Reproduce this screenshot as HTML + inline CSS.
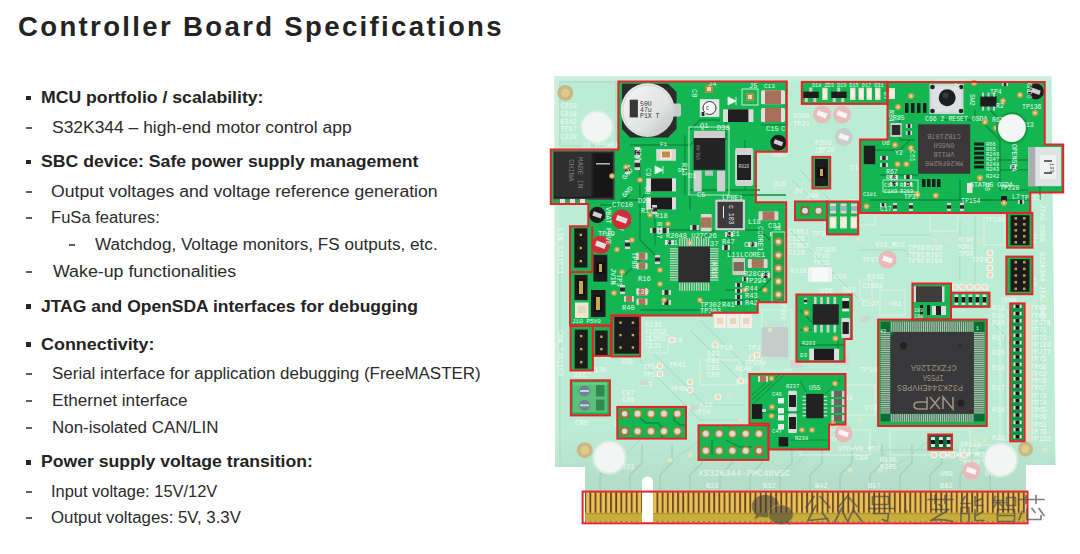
<!DOCTYPE html>
<html><head><meta charset="utf-8">
<style>
html,body{margin:0;padding:0;background:#fff;}
body{width:1080px;height:554px;position:relative;overflow:hidden;font-family:"Liberation Sans",sans-serif;color:#262626;}
.t{position:absolute;white-space:nowrap;line-height:1;transform-origin:0 0;}
.title{font-weight:bold;font-size:27px;color:#232323;letter-spacing:2.3px;}
.b{font-weight:bold;font-size:17px;color:#232323;}
.n{font-size:16px;color:#2b2b2b;}
.sq{position:absolute;width:4.7px;height:4.7px;background:#262626;}
.dash{position:absolute;height:2px;width:6px;background:#5e5e5e;}
svg{position:absolute;left:0;top:0;}
</style></head><body>
<div class="t title" id="l0" style="left:18.38px;top:14.44px;transform:scaleX(1.0201)">Controller Board Specifications</div>
<div class="t b" id="l1" style="left:41.15px;top:89.01px;transform:scaleX(1.0377)">MCU portfolio / scalability:</div>
<div class="sq" style="left:26.1px;top:95.7px"></div>
<div class="t n" id="l2" style="left:51.68px;top:119.66px;transform:scaleX(1.0901)">S32K344 – high-end motor control app</div>
<div class="dash" style="left:26.1px;top:127px"></div>
<div class="t b" id="l3" style="left:41.15px;top:152.91px;transform:scaleX(1.0378)">SBC device: Safe power supply management</div>
<div class="sq" style="left:26.1px;top:159.6px"></div>
<div class="t n" id="l4" style="left:50.72px;top:183.86px;transform:scaleX(1.1003)">Output voltages and voltage reference generation</div>
<div class="dash" style="left:26.1px;top:191px"></div>
<div class="t n" id="l5" style="left:51.35px;top:210.16px;transform:scaleX(1.0363)">FuSa features:</div>
<div class="dash" style="left:26.1px;top:217px"></div>
<div class="t n" id="l6" style="left:95.41px;top:236.76px;transform:scaleX(1.0693)">Watchdog, Voltage monitors, FS outputs, etc.</div>
<div class="dash" style="left:69.2px;top:244px"></div>
<div class="t n" id="l7" style="left:52.95px;top:263.76px;transform:scaleX(1.1110)">Wake-up functionalities</div>
<div class="dash" style="left:26.1px;top:271px"></div>
<div class="t b" id="l8" style="left:41.19px;top:297.61px;transform:scaleX(1.0285)">JTAG and OpenSDA interfaces for debugging</div>
<div class="sq" style="left:26.1px;top:304.3px"></div>
<div class="t b" id="l9" style="left:41.13px;top:335.51px;transform:scaleX(1.0543)">Connectivity:</div>
<div class="sq" style="left:26.1px;top:342.2px"></div>
<div class="t n" id="l10" style="left:51.91px;top:366.26px;transform:scaleX(1.0595)">Serial interface for application debugging (FreeMASTER)</div>
<div class="dash" style="left:26.1px;top:373px"></div>
<div class="t n" id="l11" style="left:51.70px;top:392.66px;transform:scaleX(1.0743)">Ethernet interface</div>
<div class="dash" style="left:26.1px;top:400px"></div>
<div class="t n" id="l12" style="left:51.72px;top:419.56px;transform:scaleX(1.0574)">Non-isolated CAN/LIN</div>
<div class="dash" style="left:26.1px;top:427px"></div>
<div class="t b" id="l13" style="left:41.16px;top:453.21px;transform:scaleX(1.0350)">Power supply voltage transition:</div>
<div class="sq" style="left:26.1px;top:459.9px"></div>
<div class="t n" id="l14" style="left:50.54px;top:484.16px;transform:scaleX(1.0271)">Input voltage: 15V/12V</div>
<div class="dash" style="left:26.1px;top:491px"></div>
<div class="t n" id="l15" style="left:50.76px;top:510.26px;transform:scaleX(1.0500)">Output voltages: 5V, 3.3V</div>
<div class="dash" style="left:26.1px;top:517px"></div>
<svg width="1080" height="554" viewBox="0 0 1080 554" font-family="Liberation Mono, monospace">
<defs>
<pattern id="fing" x="585.1" y="0" width="5.16" height="10" patternUnits="userSpaceOnUse">
<rect width="5.16" height="10" fill="#5e4622"/><rect x="1.0" width="3.4" height="10" fill="#ecbf56"/>
</pattern>
<linearGradient id="capg" x1="0" y1="0" x2="1" y2="1"><stop offset="0" stop-color="#f4f5f5"/><stop offset="0.6" stop-color="#e2e4e4"/><stop offset="1" stop-color="#b8bcbc"/></linearGradient>
</defs>
<path d="M554.5 76.5 H1051.5 L1055.5 465 H1026 V522 H585 V467 H555 Z" fill="#bdecd4" stroke="none" stroke-width="1" />
<path d="M554.5 76.5 H1051.5 V80.6 H559 V467 H555 Z" fill="#cdeedd" stroke="none" stroke-width="1" />
<linearGradient id="lowg" x1="0" y1="0" x2="0" y2="1"><stop offset="0" stop-color="#b0d8c4" stop-opacity="0"/><stop offset="1" stop-color="#b0d8c4" stop-opacity="0.8"/></linearGradient>
<path d="M555 430 H1054.5 L1055.5 465 H1026 V491 H585 V467 H555 Z" fill="url(#lowg)"/>
<path d="M600 491 V475 L612 463 V445" fill="none" stroke="#a3cdb8" stroke-width="1.2"/>
<path d="M630 491 V475 L642 463 V445" fill="none" stroke="#a3cdb8" stroke-width="1.2"/>
<path d="M660 491 V475 L672 463 V445" fill="none" stroke="#a3cdb8" stroke-width="1.2"/>
<path d="M690 491 V475 L702 463 V445" fill="none" stroke="#a3cdb8" stroke-width="1.2"/>
<path d="M720 491 V475 L732 463 V445" fill="none" stroke="#a3cdb8" stroke-width="1.2"/>
<path d="M750 491 V475 L762 463 V445" fill="none" stroke="#a3cdb8" stroke-width="1.2"/>
<path d="M780 491 V475 L792 463 V445" fill="none" stroke="#a3cdb8" stroke-width="1.2"/>
<path d="M810 491 V475 L822 463 V445" fill="none" stroke="#a3cdb8" stroke-width="1.2"/>
<path d="M840 491 V475 L852 463 V445" fill="none" stroke="#a3cdb8" stroke-width="1.2"/>
<path d="M870 491 V475 L882 463 V445" fill="none" stroke="#a3cdb8" stroke-width="1.2"/>
<path d="M900 491 V475 L912 463 V445" fill="none" stroke="#a3cdb8" stroke-width="1.2"/>
<path d="M930 491 V475 L942 463 V445" fill="none" stroke="#a3cdb8" stroke-width="1.2"/>
<path d="M960 491 V475 L972 463 V445" fill="none" stroke="#a3cdb8" stroke-width="1.2"/>
<path d="M990 491 V475 L1002 463 V445" fill="none" stroke="#a3cdb8" stroke-width="1.2"/>
<path d="M560 82 H616 V146 H560 Z" fill="none" stroke="#a9d9bd" stroke-width="1"/>
<path d="M790 230 L860 300" fill="none" stroke="#a9d9bd" stroke-width="1"/>
<path d="M800 170 L845 215" fill="none" stroke="#a9d9bd" stroke-width="1"/>
<path d="M792 180 L840 225" fill="none" stroke="#a9d9bd" stroke-width="1"/>
<path d="M640 360 L700 420 H740" fill="none" stroke="#a9d9bd" stroke-width="1"/>
<path d="M650 350 L705 405 H745" fill="none" stroke="#a9d9bd" stroke-width="1"/>
<path d="M690 330 L740 380" fill="none" stroke="#a9d9bd" stroke-width="1"/>
<path d="M700 320 L745 365" fill="none" stroke="#a9d9bd" stroke-width="1"/>
<path d="M870 440 L900 470" fill="none" stroke="#a9d9bd" stroke-width="1"/>
<path d="M840 450 H1000" fill="none" stroke="#a9d9bd" stroke-width="1"/>
<path d="M660 470 L700 440" fill="none" stroke="#a9d9bd" stroke-width="1"/>
<path d="M990 320 L1005 335 V440" fill="none" stroke="#a9d9bd" stroke-width="1"/>
<path d="M860 250 H905 L920 265" fill="none" stroke="#a9d9bd" stroke-width="1"/>
<path d="M880 235 H930" fill="none" stroke="#a9d9bd" stroke-width="1"/>
<path d="M960 220 V280" fill="none" stroke="#a9d9bd" stroke-width="1"/>
<path d="M975 215 V285" fill="none" stroke="#a9d9bd" stroke-width="1"/>
<path d="M890 470 L930 440" fill="none" stroke="#a9d9bd" stroke-width="1"/>
<path d="M1040 300 V440" fill="none" stroke="#a9d9bd" stroke-width="1"/>
<path d="M600 480 L640 440" fill="none" stroke="#a9d9bd" stroke-width="1"/>
<path d="M790 470 L820 440" fill="none" stroke="#a9d9bd" stroke-width="1"/>
<path d="M560 250 V460" fill="none" stroke="#a9d9bd" stroke-width="1"/>
<rect x="930" y="195" width="28" height="36" fill="none" stroke="#e4f5ea" stroke-width="0.8"/>
<rect x="955" y="330" width="30" height="12" fill="none" stroke="#e4f5ea" stroke-width="0.8"/>
<rect x="835" y="385" width="40" height="30" fill="none" stroke="#e4f5ea" stroke-width="0.8"/>
<rect x="890" y="430" width="80" height="25" fill="none" stroke="#e4f5ea" stroke-width="0.8"/>
<rect x="940" y="80" width="25" height="4" fill="none" stroke="#e4f5ea" stroke-width="0.8"/>
<rect x="1000" y="310" width="8" height="130" fill="none" stroke="#e4f5ea" stroke-width="0.8"/>
<rect x="880" y="290" width="25" height="25" fill="none" stroke="#e4f5ea" stroke-width="0.8"/>
<rect x="845" y="200" width="30" height="25" fill="none" stroke="#e4f5ea" stroke-width="0.8"/>
<rect x="860" y="280" width="12" height="20" fill="none" stroke="#e4f5ea" stroke-width="0.8"/>
<rect x="762" y="310" width="30" height="60" fill="none" stroke="#e4f5ea" stroke-width="0.8"/>
<rect x="700" y="360" width="40" height="25" fill="none" stroke="#e4f5ea" stroke-width="0.8"/>
<rect x="650" y="335" width="18" height="18" fill="none" stroke="#e4f5ea" stroke-width="0.8"/>
<rect x="800" y="430" width="70" height="25" fill="none" stroke="#e4f5ea" stroke-width="0.8"/>
<rect x="960" y="445" width="30" height="15" fill="none" stroke="#e4f5ea" stroke-width="0.8"/>
<text x="560.0" y="108.0" font-size="7" fill="#eefaf3" >C219</text>
<text x="560.0" y="116.0" font-size="7" fill="#eefaf3" >C218</text>
<text x="560.0" y="124.0" font-size="7" fill="#eefaf3" >R342</text>
<text x="560.0" y="139.0" font-size="7" fill="#eefaf3" >C220</text>
<text x="560.0" y="131.0" font-size="7" fill="#eefaf3" >TP87</text>
<text x="582.0" y="147.0" font-size="7" fill="#eefaf3" >J1 VPOWER</text>
<text x="793.0" y="118.0" font-size="7" fill="#eefaf3" >VDDA</text>
<text x="793.0" y="126.0" font-size="7" fill="#eefaf3" >TP21</text>
<text x="815.0" y="145.0" font-size="7" fill="#eefaf3" >P3V3</text>
<text x="818.0" y="152.0" font-size="7" fill="#eefaf3" >TP20</text>
<text x="815.0" y="167.0" font-size="7" fill="#eefaf3" >GND2</text>
<text x="850.0" y="170.0" font-size="7" fill="#eefaf3" >C165</text>
<text x="772.0" y="157.0" font-size="7" fill="#eefaf3" >GND7</text>
<text x="773.0" y="186.0" font-size="7" fill="#eefaf3" >Q18</text>
<text x="795.0" y="193.0" font-size="7" fill="#eefaf3" >D2</text>
<text x="814.0" y="153.0" font-size="7" fill="#eefaf3" >J3</text>
<text x="806.0" y="198.0" font-size="7" fill="#eefaf3" >J40</text>
<text x="788.0" y="234.0" font-size="7" fill="#eefaf3" >CTRK1</text>
<text x="788.0" y="241.0" font-size="7" fill="#eefaf3" >C128</text>
<text x="788.0" y="248.0" font-size="7" fill="#eefaf3" >CTRK2</text>
<text x="788.0" y="255.0" font-size="7" fill="#eefaf3" >C129</text>
<text x="812.0" y="236.0" font-size="7" fill="#eefaf3" >TP307</text>
<text x="815.0" y="252.0" font-size="7" fill="#eefaf3" >TP305</text>
<text x="813.0" y="258.0" font-size="7" fill="#eefaf3" >TP16</text>
<text x="813.0" y="265.0" font-size="7" fill="#eefaf3" >TP15</text>
<text x="790.0" y="273.0" font-size="7" fill="#eefaf3" >R216</text>
<text x="834.0" y="279.0" font-size="7" fill="#eefaf3" >C50</text>
<text x="820.0" y="293.0" font-size="7" fill="#eefaf3" >U66</text>
<text x="843.0" y="292.0" font-size="7" fill="#eefaf3" >D92</text>
<text x="875.0" y="247.0" font-size="7" fill="#eefaf3" >V15_MCU</text>
<text x="862.0" y="262.0" font-size="7" fill="#eefaf3" >TP27</text>
<text x="867.0" y="279.0" font-size="7" fill="#eefaf3" >R333</text>
<text x="862.0" y="288.0" font-size="7" fill="#eefaf3" >C1992</text>
<text x="862.0" y="306.0" font-size="7" fill="#eefaf3" >C197</text>
<text x="889.0" y="306.0" font-size="7" fill="#eefaf3" >U81</text>
<text x="908.0" y="250.0" font-size="7" fill="#eefaf3" >TP89</text>
<text x="908.0" y="257.0" font-size="7" fill="#eefaf3" >TP91</text>
<text x="908.0" y="263.0" font-size="7" fill="#eefaf3" >TP97</text>
<text x="926.0" y="250.0" font-size="7" fill="#eefaf3" >R193</text>
<text x="926.0" y="257.0" font-size="7" fill="#eefaf3" >R192</text>
<text x="926.0" y="263.0" font-size="7" fill="#eefaf3" >R194</text>
<text x="1030.0" y="310.0" font-size="7" fill="#eefaf3" >TP66</text>
<text x="1030.0" y="318.0" font-size="7" fill="#eefaf3" >TP63</text>
<text x="1030.0" y="325.0" font-size="7" fill="#eefaf3" >TP278</text>
<text x="1030.0" y="332.0" font-size="7" fill="#eefaf3" >TP71</text>
<text x="1030.0" y="340.0" font-size="7" fill="#eefaf3" >TP73</text>
<text x="1030.0" y="347.0" font-size="7" fill="#eefaf3" >TP124</text>
<text x="1030.0" y="354.0" font-size="7" fill="#eefaf3" >TP277</text>
<text x="1030.0" y="361.0" font-size="7" fill="#eefaf3" >TP75</text>
<text x="1030.0" y="369.0" font-size="7" fill="#eefaf3" >TP68</text>
<text x="1030.0" y="376.0" font-size="7" fill="#eefaf3" >TP62</text>
<text x="1030.0" y="383.0" font-size="7" fill="#eefaf3" >TP59</text>
<text x="1030.0" y="390.0" font-size="7" fill="#eefaf3" >TP67</text>
<text x="1030.0" y="398.0" font-size="7" fill="#eefaf3" >TP72</text>
<text x="1030.0" y="405.0" font-size="7" fill="#eefaf3" >TP74</text>
<text x="1030.0" y="412.0" font-size="7" fill="#eefaf3" >TP65</text>
<text x="1030.0" y="419.0" font-size="7" fill="#eefaf3" >TP69</text>
<text x="1030.0" y="427.0" font-size="7" fill="#eefaf3" >TP61</text>
<text x="1030.0" y="434.0" font-size="7" fill="#eefaf3" >TP76</text>
<text x="1030.0" y="441.0" font-size="7" fill="#eefaf3" >TP123</text>
<text x="992.0" y="310.0" font-size="7" fill="#eefaf3" >R16</text>
<text x="992.0" y="318.0" font-size="7" fill="#eefaf3" >R15</text>
<text x="992.0" y="325.0" font-size="7" fill="#eefaf3" >R20</text>
<text x="992.0" y="340.0" font-size="7" fill="#eefaf3" >R17</text>
<text x="992.0" y="355.0" font-size="7" fill="#eefaf3" >R26</text>
<text x="992.0" y="370.0" font-size="7" fill="#eefaf3" >R16</text>
<text x="992.0" y="390.0" font-size="7" fill="#eefaf3" >R17</text>
<text x="992.0" y="412.0" font-size="7" fill="#eefaf3" >R16</text>
<text x="992.0" y="440.0" font-size="7" fill="#eefaf3" >R29</text>
<text x="1000.0" y="303.0" font-size="7" fill="#eefaf3" >TP98</text>
<text x="706.0" y="488.0" font-size="7" fill="#eefaf3" >B22</text>
<text x="763.0" y="488.0" font-size="7" fill="#eefaf3" >B32</text>
<text x="815.0" y="488.0" font-size="7" fill="#eefaf3" >B42</text>
<text x="868.0" y="488.0" font-size="7" fill="#eefaf3" >B57</text>
<text x="940.0" y="488.0" font-size="7" fill="#eefaf3" >B82</text>
<text x="838.0" y="451.0" font-size="7" fill="#eefaf3" >VDDHVB_MCU</text>
<text x="945.0" y="457.0" font-size="7" fill="#eefaf3" >VDDHVA_MCU</text>
<text x="963.0" y="466.0" font-size="7" fill="#eefaf3" >TP92</text>
<text x="830.0" y="442.0" font-size="7" fill="#eefaf3" >TP82</text>
<text x="840.0" y="400.0" font-size="7" fill="#eefaf3" >U68</text>
<text x="860.0" y="372.0" font-size="7" fill="#eefaf3" >TP102</text>
<text x="878.0" y="395.0" font-size="7" fill="#eefaf3" >TP274</text>
<text x="865.0" y="410.0" font-size="7" fill="#eefaf3" >U72</text>
<text x="855.0" y="460.0" font-size="7" fill="#eefaf3" >C94</text>
<text x="880.0" y="462.0" font-size="7" fill="#eefaf3" >R195</text>
<text x="880.0" y="469.0" font-size="7" fill="#eefaf3" >R205</text>
<text x="958.0" y="454.0" font-size="7" fill="#eefaf3" >TP121</text>
<text x="960.0" y="447.0" font-size="7" fill="#eefaf3" >TP122</text>
<text x="940.0" y="476.0" font-size="7" fill="#eefaf3" >U69</text>
<text x="985.0" y="476.0" font-size="7" fill="#eefaf3" >U71</text>
<text x="645.0" y="327.0" font-size="7" fill="#eefaf3" >C133</text>
<text x="645.0" y="334.0" font-size="7" fill="#eefaf3" >CLDO2</text>
<text x="645.0" y="341.0" font-size="7" fill="#eefaf3" >CLDO1</text>
<text x="645.0" y="348.0" font-size="7" fill="#eefaf3" >C131</text>
<text x="674.0" y="342.0" font-size="7" fill="#eefaf3" >L9</text>
<text x="716.0" y="350.0" font-size="7" fill="#eefaf3" >TP56</text>
<text x="707.0" y="356.0" font-size="7" fill="#eefaf3" >C83</text>
<text x="707.0" y="363.0" font-size="7" fill="#eefaf3" >C82</text>
<text x="707.0" y="370.0" font-size="7" fill="#eefaf3" >C81</text>
<text x="707.0" y="377.0" font-size="7" fill="#eefaf3" >C80</text>
<text x="643.0" y="369.0" font-size="7" fill="#eefaf3" >TP54</text>
<text x="643.0" y="377.0" font-size="7" fill="#eefaf3" >TP52</text>
<text x="669.0" y="367.0" font-size="7" fill="#eefaf3" >TP41</text>
<text x="670.0" y="391.0" font-size="7" fill="#eefaf3" >TP49</text>
<text x="700.0" y="407.0" font-size="7" fill="#eefaf3" >L15</text>
<text x="694.0" y="414.0" font-size="7" fill="#eefaf3" >TP50</text>
<text x="735.0" y="371.0" font-size="7" fill="#eefaf3" >R140</text>
<text x="736.0" y="384.0" font-size="7" fill="#eefaf3" >R105</text>
<text x="745.0" y="365.0" font-size="7" fill="#eefaf3" >TP298</text>
<text x="748.0" y="350.0" font-size="7" fill="#eefaf3" >TP299</text>
<text x="760.0" y="332.0" font-size="7" fill="#eefaf3" >TP297</text>
<text x="640.0" y="386.0" font-size="7" fill="#eefaf3" >JP1</text>
<text x="686.0" y="410.0" font-size="7" fill="#eefaf3" >J18</text>
<text x="613.0" y="426.0" font-size="7" fill="#eefaf3" >J19</text>
<text x="648.0" y="440.0" font-size="7" fill="#eefaf3" >J19</text>
<text x="596.0" y="346.0" font-size="7" fill="#eefaf3" >J7</text>
<text x="573.0" y="377.0" font-size="7" fill="#eefaf3" >J31</text>
<text x="592.0" y="385.0" font-size="7" fill="#eefaf3" >J15</text>
<text x="606.0" y="347.0" font-size="7" fill="#eefaf3" >J59</text>
<text x="575.0" y="425.0" font-size="7" fill="#eefaf3" >C90</text>
<text x="622.0" y="395.0" font-size="7" fill="#eefaf3" >C87</text>
<text x="622.0" y="402.0" font-size="7" fill="#eefaf3" >C86</text>
<text x="590.0" y="372.0" font-size="7" fill="#eefaf3" >R130</text>
<text x="622.0" y="469.0" font-size="7" fill="#eefaf3" >J22</text>
<text x="595.0" y="415.0" font-size="7" fill="#eefaf3" >1</text>
<text x="1040.0" y="204.0" font-size="7" fill="#eefaf3" transform="rotate(90 1040 204)">JTAG OSDA</text>
<text x="1040.0" y="252.0" font-size="7" fill="#eefaf3" transform="rotate(90 1040 252)">S32K344 JTAG/SWD</text>
<text x="1031.0" y="232.0" font-size="6.5" fill="#eefaf3" transform="rotate(90 1031 232)">J14</text>
<text x="1031.0" y="276.0" font-size="6.5" fill="#eefaf3" transform="rotate(90 1031 276)">J25</text>
<text x="958.0" y="242.0" font-size="6.5" fill="#eefaf3" >R300</text>
<text x="958.0" y="249.0" font-size="6.5" fill="#eefaf3" >R301</text>
<text x="958.0" y="256.0" font-size="6.5" fill="#eefaf3" >TP95</text>
<text x="972.0" y="262.0" font-size="6.5" fill="#eefaf3" >TP280</text>
<text x="985.0" y="212.0" font-size="6.5" fill="#eefaf3" >TP105</text>
<text x="985.0" y="222.0" font-size="6.5" fill="#eefaf3" >TP100</text>
<rect x="984" y="203" width="20" height="42" fill="none" stroke="#e4f5ea" stroke-width="0.8"/>
<text x="558.0" y="228.0" font-size="7" fill="#eefaf3" transform="rotate(90 558 228)">LIN_TJA1021</text>
<text x="558.0" y="330.0" font-size="7" fill="#eefaf3" transform="rotate(90 558 330)">CAN_TJA1153</text>
<text x="698" y="476" font-size="9" textLength="92" lengthAdjust="spacing" fill="#eaf8f0">XS32K344-PMC48VSC</text>
<circle cx="715.0" cy="345.0" r="3.3" fill="#f1fbf5" />
<circle cx="715.0" cy="345.0" r="2.4" fill="#ecd9c0" />
<circle cx="660.0" cy="366.0" r="3.3" fill="#f1fbf5" />
<circle cx="660.0" cy="366.0" r="2.4" fill="#ecd9c0" />
<circle cx="660.0" cy="374.0" r="3.3" fill="#f1fbf5" />
<circle cx="660.0" cy="374.0" r="2.4" fill="#ecd9c0" />
<circle cx="690.0" cy="382.0" r="3.3" fill="#f1fbf5" />
<circle cx="690.0" cy="382.0" r="2.4" fill="#ecd9c0" />
<circle cx="690.0" cy="390.0" r="3.3" fill="#f1fbf5" />
<circle cx="690.0" cy="390.0" r="2.4" fill="#ecd9c0" />
<circle cx="718.0" cy="397.0" r="3.3" fill="#f1fbf5" />
<circle cx="718.0" cy="397.0" r="2.4" fill="#ecd9c0" />
<circle cx="672.0" cy="340.0" r="3.3" fill="#f1fbf5" />
<circle cx="672.0" cy="340.0" r="2.4" fill="#ecd9c0" />
<circle cx="741.0" cy="381.0" r="3.3" fill="#f1fbf5" />
<circle cx="741.0" cy="381.0" r="2.4" fill="#ecd9c0" />
<circle cx="752.0" cy="358.0" r="3.3" fill="#f1fbf5" />
<circle cx="752.0" cy="358.0" r="2.4" fill="#ecd9c0" />
<circle cx="757.0" cy="355.0" r="3.3" fill="#f1fbf5" />
<circle cx="757.0" cy="355.0" r="2.4" fill="#ecd9c0" />
<circle cx="765.0" cy="355.0" r="3.3" fill="#f1fbf5" />
<circle cx="765.0" cy="355.0" r="2.4" fill="#ecd9c0" />
<circle cx="955.0" cy="287.0" r="3.3" fill="#f1fbf5" />
<circle cx="955.0" cy="287.0" r="2.4" fill="#ecd9c0" />
<circle cx="962.5" cy="287.0" r="3.3" fill="#f1fbf5" />
<circle cx="962.5" cy="287.0" r="2.4" fill="#ecd9c0" />
<circle cx="970.0" cy="287.0" r="3.3" fill="#f1fbf5" />
<circle cx="970.0" cy="287.0" r="2.4" fill="#ecd9c0" />
<circle cx="977.5" cy="287.0" r="3.3" fill="#f1fbf5" />
<circle cx="977.5" cy="287.0" r="2.4" fill="#ecd9c0" />
<circle cx="985.0" cy="287.0" r="3.3" fill="#f1fbf5" />
<circle cx="985.0" cy="287.0" r="2.4" fill="#ecd9c0" />
<circle cx="990.0" cy="253.0" r="3.3" fill="#f1fbf5" />
<circle cx="990.0" cy="253.0" r="2.4" fill="#ecd9c0" />
<circle cx="990.0" cy="260.0" r="3.3" fill="#f1fbf5" />
<circle cx="990.0" cy="260.0" r="2.4" fill="#ecd9c0" />
<circle cx="990.0" cy="268.0" r="3.3" fill="#f1fbf5" />
<circle cx="990.0" cy="268.0" r="2.4" fill="#ecd9c0" />
<circle cx="990.0" cy="275.0" r="3.3" fill="#f1fbf5" />
<circle cx="990.0" cy="275.0" r="2.4" fill="#ecd9c0" />
<circle cx="964.0" cy="455.0" r="3.3" fill="#f1fbf5" />
<circle cx="964.0" cy="455.0" r="2.4" fill="#ecd9c0" />
<circle cx="934.0" cy="455.0" r="3.3" fill="#f1fbf5" />
<circle cx="934.0" cy="455.0" r="2.4" fill="#ecd9c0" />
<circle cx="943.0" cy="455.0" r="3.3" fill="#f1fbf5" />
<circle cx="943.0" cy="455.0" r="2.4" fill="#ecd9c0" />
<circle cx="952.0" cy="455.0" r="3.3" fill="#f1fbf5" />
<circle cx="952.0" cy="455.0" r="2.4" fill="#ecd9c0" />
<circle cx="703.0" cy="306.0" r="3.3" fill="#f1fbf5" />
<circle cx="703.0" cy="306.0" r="2.4" fill="#ecd9c0" />
<circle cx="712.0" cy="306.0" r="3.3" fill="#f1fbf5" />
<circle cx="712.0" cy="306.0" r="2.4" fill="#ecd9c0" />
<circle cx="722.0" cy="306.0" r="3.3" fill="#f1fbf5" />
<circle cx="722.0" cy="306.0" r="2.4" fill="#ecd9c0" />
<rect x="915.0" y="383.0" width="22.0" height="8.0" fill="#cdd8d2" />
<rect x="958.0" y="388.0" width="22.0" height="8.0" fill="#cdd8d2" />
<rect x="790.0" y="360.0" width="12.0" height="8.0" fill="#cdd8d2" />
<rect x="835.0" y="355.0" width="14.0" height="10.0" fill="#cdd8d2" />
<rect x="860.0" y="316.0" width="10.0" height="6.0" fill="#cdd8d2" />
<rect x="752.0" y="392.0" width="8.0" height="5.0" fill="#cdd8d2" />
<rect x="690.0" y="405.0" width="8.0" height="5.0" fill="#cdd8d2" />
<rect x="640.0" y="380.0" width="8.0" height="5.0" fill="#cdd8d2" />
<rect x="808.0" y="267.0" width="24.0" height="15.0" fill="#eef3f0" rx="2"/>
<rect x="812.0" y="268.0" width="16.0" height="13.0" fill="#f8faf9" />
<rect x="714.0" y="314.0" width="12.0" height="14.0" fill="#f3efe6" />
<rect x="717.0" y="318.0" width="6.0" height="6.0" fill="#e6d8c0" />
<rect x="727.0" y="314.0" width="12.0" height="14.0" fill="#f3efe6" />
<rect x="730.0" y="318.0" width="6.0" height="6.0" fill="#e6d8c0" />
<rect x="740.0" y="314.0" width="12.0" height="14.0" fill="#f3efe6" />
<rect x="743.0" y="318.0" width="6.0" height="6.0" fill="#e6d8c0" />
<rect x="579.0" y="378.0" width="0.0" height="0.0" fill="#000" />
<rect x="763.0" y="323.0" width="1.3" height="4.0" fill="#d5d9d7" />
<rect x="763.0" y="357.0" width="1.3" height="4.0" fill="#d5d9d7" />
<rect x="766.2" y="323.0" width="1.3" height="4.0" fill="#d5d9d7" />
<rect x="766.2" y="357.0" width="1.3" height="4.0" fill="#d5d9d7" />
<rect x="769.4" y="323.0" width="1.3" height="4.0" fill="#d5d9d7" />
<rect x="769.4" y="357.0" width="1.3" height="4.0" fill="#d5d9d7" />
<rect x="772.6" y="323.0" width="1.3" height="4.0" fill="#d5d9d7" />
<rect x="772.6" y="357.0" width="1.3" height="4.0" fill="#d5d9d7" />
<rect x="775.8" y="323.0" width="1.3" height="4.0" fill="#d5d9d7" />
<rect x="775.8" y="357.0" width="1.3" height="4.0" fill="#d5d9d7" />
<rect x="779.0" y="323.0" width="1.3" height="4.0" fill="#d5d9d7" />
<rect x="779.0" y="357.0" width="1.3" height="4.0" fill="#d5d9d7" />
<rect x="782.2" y="323.0" width="1.3" height="4.0" fill="#d5d9d7" />
<rect x="782.2" y="357.0" width="1.3" height="4.0" fill="#d5d9d7" />
<rect x="785.4" y="323.0" width="1.3" height="4.0" fill="#d5d9d7" />
<rect x="785.4" y="357.0" width="1.3" height="4.0" fill="#d5d9d7" />
<rect x="761.5" y="327.0" width="26.5" height="30.0" fill="#c6ccc9" />
<circle cx="822.1" cy="114.4" r="9.0" fill="#e9bcbc" />
<rect x="817.1" y="111.9" width="9.9" height="5.0" fill="#f6f6f6" transform="rotate(20 822.1 114.4)"/>
<circle cx="842.0" cy="114.4" r="9.0" fill="#e9bcbc" />
<rect x="837.0" y="111.9" width="9.9" height="5.0" fill="#f6f6f6" transform="rotate(20 842.0 114.4)"/>
<circle cx="843.8" cy="137.0" r="9.0" fill="#c9cdcd" />
<rect x="838.8" y="134.5" width="9.9" height="5.0" fill="#f6f6f6" transform="rotate(20 843.8 137.0)"/>
<circle cx="887.6" cy="259.5" r="9.0" fill="#e8baba" />
<rect x="882.6" y="257.0" width="9.9" height="5.0" fill="#f6f6f6" transform="rotate(20 887.6 259.5)"/>
<circle cx="843.5" cy="433.3" r="9.0" fill="#e8baba" />
<rect x="838.5" y="430.8" width="9.9" height="5.0" fill="#f6f6f6" transform="rotate(20 843.5 433.3)"/>
<circle cx="971.3" cy="470.8" r="9.0" fill="#e8baba" />
<rect x="966.3" y="468.3" width="9.9" height="5.0" fill="#f6f6f6" transform="rotate(20 971.3 470.8)"/>
<circle cx="596.9" cy="127.0" r="16.7" fill="#d6efe1" />
<circle cx="596.9" cy="127.0" r="14.7" fill="#f3f5f4" />
<circle cx="609.4" cy="457.5" r="17.0" fill="#d6efe1" />
<circle cx="609.4" cy="457.5" r="15.0" fill="#f3f5f4" />
<circle cx="1000.6" cy="459.9" r="17.5" fill="#d6efe1" />
<circle cx="1000.6" cy="459.9" r="15.5" fill="#f3f5f4" />
<circle cx="565.3" cy="92.9" r="8.0" fill="#c8b888" />
<circle cx="565.3" cy="92.9" r="4.4" fill="#e0cc8a" />
<circle cx="584.7" cy="450.2" r="8.0" fill="#c8b888" />
<circle cx="584.7" cy="450.2" r="4.4" fill="#e0cc8a" />
<circle cx="1025.5" cy="449.0" r="7.5" fill="#c8b888" />
<circle cx="1025.5" cy="449.0" r="4.1" fill="#e0cc8a" />
<circle cx="842.0" cy="235.0" r="2.5" fill="#d9e6c8" />
<circle cx="858.0" cy="240.0" r="2.5" fill="#d9e6c8" />
<circle cx="870.0" cy="300.0" r="2.5" fill="#d9e6c8" />
<circle cx="905.0" cy="335.0" r="2.5" fill="#d9e6c8" />
<circle cx="915.0" cy="305.0" r="2.5" fill="#d9e6c8" />
<circle cx="935.0" cy="240.0" r="2.5" fill="#d9e6c8" />
<circle cx="950.0" cy="240.0" r="2.5" fill="#d9e6c8" />
<circle cx="965.0" cy="240.0" r="2.5" fill="#d9e6c8" />
<circle cx="980.0" cy="240.0" r="2.5" fill="#d9e6c8" />
<circle cx="860.0" cy="420.0" r="2.5" fill="#d9e6c8" />
<circle cx="985.0" cy="440.0" r="2.5" fill="#d9e6c8" />
<circle cx="975.0" cy="440.0" r="2.5" fill="#d9e6c8" />
<circle cx="1045.0" cy="300.0" r="2.5" fill="#d9e6c8" />
<circle cx="1045.0" cy="450.0" r="2.5" fill="#d9e6c8" />
<circle cx="700.0" cy="375.0" r="2.5" fill="#d9e6c8" />
<circle cx="730.0" cy="395.0" r="2.5" fill="#d9e6c8" />
<circle cx="770.0" cy="330.0" r="2.5" fill="#d9e6c8" />
<circle cx="800.0" cy="325.0" r="2.5" fill="#d9e6c8" />
<circle cx="740.0" cy="420.0" r="2.5" fill="#d9e6c8" />
<circle cx="670.0" cy="460.0" r="2.5" fill="#d9e6c8" />
<circle cx="690.0" cy="455.0" r="2.5" fill="#d9e6c8" />
<circle cx="850.0" cy="470.0" r="2.5" fill="#d9e6c8" />
<circle cx="880.0" cy="470.0" r="2.5" fill="#d9e6c8" />
<rect x="585.1" y="492.3" width="440.4" height="30.0" fill="url(#fing)" />
<rect x="585.1" y="512.7" width="440.4" height="8.8" fill="#c7ad3c" />
<rect x="585.1" y="513" width="440.4" height="1.2" fill="#a8862c" opacity="0.6"/>
<path d="M642 522.5 V482 A5.5 5.5 0 0 1 653 482 V522.5 Z" fill="#ffffff"/>
<path d="M618.3 81.6 H786.8 V151.7 H755.9 V202.3 H786.2 V302.2 H757.7 V312.7 H711.7 V315.6 H611.5 V325.3 H570 V226.3 H588.3 V204 H550.8 V149.4 H618.3 Z" fill="#14b553" stroke="none" stroke-width="1" />
<path d="M630 145 H690 L700 135" fill="none" stroke="#0b8a3e" stroke-width="1.3"/>
<path d="M640 165 V240 L660 260" fill="none" stroke="#0b8a3e" stroke-width="1.3"/>
<path d="M690 190 H760" fill="none" stroke="#0b8a3e" stroke-width="1.3"/>
<path d="M620 200 H640 L660 180" fill="none" stroke="#0b8a3e" stroke-width="1.3"/>
<path d="M740 195 H786" fill="none" stroke="#0b8a3e" stroke-width="1.3"/>
<path d="M660 230 H700" fill="none" stroke="#0b8a3e" stroke-width="1.3"/>
<path d="M700 240 L715 230 H760 L770 240" fill="none" stroke="#0b8a3e" stroke-width="1.3"/>
<path d="M725 290 H760 L772 278" fill="none" stroke="#0b8a3e" stroke-width="1.3"/>
<path d="M720 300 H760" fill="none" stroke="#0b8a3e" stroke-width="1.3"/>
<path d="M640 310 H700" fill="none" stroke="#0b8a3e" stroke-width="1.3"/>
<path d="M685 135 V195" fill="none" stroke="#0b8a3e" stroke-width="1.3"/>
<path d="M726 120 V140" fill="none" stroke="#0b8a3e" stroke-width="1.3"/>
<path d="M760 125 H786" fill="none" stroke="#0b8a3e" stroke-width="1.3"/>
<path d="M745 140 V190" fill="none" stroke="#0b8a3e" stroke-width="1.3"/>
<path d="M625 275 L645 255" fill="none" stroke="#0b8a3e" stroke-width="1.3"/>
<path d="M600 205 H618 L630 195" fill="none" stroke="#0b8a3e" stroke-width="1.3"/>
<path d="M655 215 V245" fill="none" stroke="#0b8a3e" stroke-width="1.3"/>
<path d="M690 130 L700 120 H720" fill="none" stroke="#0b8a3e" stroke-width="1.3"/>
<path d="M612 150 V200" fill="none" stroke="#0b8a3e" stroke-width="1.3"/>
<path d="M700 195 H690 V210" fill="none" stroke="#0b8a3e" stroke-width="1.3"/>
<path d="M730 235 V255" fill="none" stroke="#0b8a3e" stroke-width="1.3"/>
<path d="M622 83.8 H668 L676.5 92 V129 L668 137.6 H630 L622 129 Z" fill="#2b2b2b" stroke="none" stroke-width="1" />
<rect x="672.0" y="103.5" width="9.0" height="13.0" fill="#c9cccc" rx="2"/>
<circle cx="647.7" cy="110.1" r="26.9" fill="url(#capg)" />
<circle cx="647.7" cy="110.1" r="25.0" fill="none" stroke="#cfd2d2" stroke-width="1"/>
<rect x="629.7" y="99.7" width="8.2" height="17.7" fill="#3a3636" />
<text x="640.0" y="106.0" font-size="6.5" fill="#333" >50U</text>
<text x="640.0" y="112.0" font-size="6.5" fill="#333" >47u</text>
<text x="640.0" y="118.0" font-size="6.5" fill="#333" >P1X T</text>
<rect x="705.0" y="85.0" width="8.0" height="8.0" fill="#b78b3a" />
<rect x="707.0" y="87.0" width="4.0" height="4.0" fill="#e0dcd0" />
<rect x="699.8" y="99.2" width="19.5" height="17.7" fill="#e8eaea" />
<circle cx="709.5" cy="108.0" r="6.5" fill="#f6f6f6" stroke="#333" stroke-width="1"/>
<text x="706.0" y="110.0" font-size="5" fill="#222" >C</text>
<rect x="742" y="89" width="16" height="16" fill="none" stroke="#f0fff4" stroke-width="0.8"/>
<rect x="746.0" y="93.0" width="8.0" height="8.0" fill="#b78b3a" />
<rect x="748.0" y="95.0" width="4.0" height="4.0" fill="#e0dcd0" />
<path d="M728 97 L736 101 L728 105 Z M736 97 V105" fill="#f0fff4" stroke="#f0fff4" stroke-width="0.8" />
<rect x="723.0" y="109.3" width="30.4" height="12.7" fill="#dcdcdc" />
<rect x="728.0" y="109.3" width="20.4" height="12.7" fill="#1f1f1f" />
<rect x="761.0" y="90.3" width="24.0" height="14.0" fill="#e0e0dc" rx="1.5"/>
<rect x="765.0" y="90.3" width="16.0" height="14.0" fill="#a8705a" />
<rect x="761.0" y="108.0" width="24.0" height="14.0" fill="#e0e0dc" rx="1.5"/>
<rect x="765.0" y="108.0" width="16.0" height="14.0" fill="#a8705a" />
<text x="764.0" y="88.0" font-size="6" fill="#e6fbee" >C13</text>
<circle cx="778.4" cy="142.7" r="8.0" fill="#1e1e1e" />
<rect x="774.0" y="140.5" width="8.8" height="4.5" fill="#cfcfcf" transform="rotate(20 778.4 142.7)"/>
<rect x="689" y="127" width="40" height="68" fill="none" stroke="#e8f8ee" stroke-width="0.8"/>
<rect x="694.0" y="130.8" width="31.0" height="7.5" fill="#cfcfcf" />
<rect x="693.6" y="138.0" width="31.6" height="31.8" fill="#242424" />
<text x="700.0" y="160.0" font-size="5" fill="#888" transform="rotate(-90 700 160)">VNL48</text>
<rect x="693.6" y="170.7" width="8.1" height="20.7" fill="#d0d0d0" />
<rect x="717.0" y="170.7" width="8.2" height="20.7" fill="#d0d0d0" />
<rect x="705.0" y="170.7" width="8.0" height="5.0" fill="#c0c0c0" />
<rect x="735.1" y="148.1" width="18.1" height="37.9" fill="#d2d2d2" rx="2"/>
<rect x="737.0" y="155.0" width="14.0" height="25.0" fill="#202020" />
<text x="738.5" y="168.0" font-size="4.5" fill="#ddd" >R020</text>
<text x="722.0" y="200.0" font-size="7" fill="#e6fbee" >LPRE1</text>
<rect x="656.2" y="149.0" width="19.8" height="11.8" fill="#d8d8d0" />
<rect x="660.5" y="150.5" width="11.0" height="8.8" fill="#f4f0e4" />
<rect x="662.0" y="151.5" width="8.0" height="6.0" fill="#c88848" />
<text x="660.0" y="146.0" font-size="6" fill="#e6fbee" >F1</text>
<rect x="646.2" y="178.3" width="29.8" height="13.1" fill="#dedede" />
<rect x="651.0" y="178.3" width="21.0" height="13.1" fill="#1c1c1c" />
<rect x="646.2" y="197.4" width="29.8" height="12.1" fill="#dedede" />
<rect x="651.0" y="197.4" width="21.0" height="12.1" fill="#1c1c1c" />
<path d="M655 166 L663 170 L655 174 Z M663 166 V174" fill="#e6fbee" stroke="#e6fbee" stroke-width="0.8" />
<text x="678.0" y="172.0" font-size="6" fill="#e6fbee" >D1</text>
<rect x="634.5" y="147.0" width="5.5" height="11.0" fill="#d4d6d6" />
<rect x="634.5" y="150.1" width="5.5" height="4.8" fill="#2a2a2a" />
<rect x="634.5" y="160.0" width="5.5" height="10.0" fill="#d4d6d6" />
<rect x="634.5" y="162.8" width="5.5" height="4.4" fill="#2a2a2a" />
<rect x="625.0" y="165.0" width="5.0" height="9.0" fill="#d4d6d6" />
<rect x="625.0" y="167.5" width="5.0" height="4.0" fill="#2a2a2a" />
<rect x="650.0" y="228.0" width="9.0" height="5.0" fill="#d4d6d6" />
<rect x="652.5" y="228.0" width="4.0" height="5.0" fill="#2a2a2a" />
<rect x="660.0" y="228.0" width="9.0" height="5.0" fill="#d4d6d6" />
<rect x="662.5" y="228.0" width="4.0" height="5.0" fill="#2a2a2a" />
<rect x="625.0" y="240.0" width="5.0" height="9.0" fill="#d4d6d6" />
<rect x="625.0" y="242.5" width="5.0" height="4.0" fill="#2a2a2a" />
<rect x="655.0" y="255.0" width="5.0" height="9.0" fill="#d4d6d6" />
<rect x="655.0" y="257.5" width="5.0" height="4.0" fill="#2a2a2a" />
<rect x="665.0" y="240.0" width="9.0" height="5.0" fill="#d4d6d6" />
<rect x="667.5" y="240.0" width="4.0" height="5.0" fill="#2a2a2a" />
<rect x="735.0" y="283.0" width="7.0" height="4.0" fill="#d4d6d6" />
<rect x="737.0" y="283.0" width="3.1" height="4.0" fill="#2a2a2a" />
<rect x="735.0" y="289.0" width="7.0" height="4.0" fill="#d4d6d6" />
<rect x="737.0" y="289.0" width="3.1" height="4.0" fill="#2a2a2a" />
<rect x="735.0" y="295.0" width="7.0" height="4.0" fill="#d4d6d6" />
<rect x="737.0" y="295.0" width="3.1" height="4.0" fill="#2a2a2a" />
<rect x="735.0" y="301.0" width="7.0" height="4.0" fill="#d4d6d6" />
<rect x="737.0" y="301.0" width="3.1" height="4.0" fill="#2a2a2a" />
<rect x="722.0" y="245.0" width="8.0" height="5.0" fill="#d4d6d6" />
<rect x="724.2" y="245.0" width="3.5" height="5.0" fill="#2a2a2a" />
<rect x="725.0" y="232.0" width="8.0" height="5.0" fill="#d4d6d6" />
<rect x="727.2" y="232.0" width="3.5" height="5.0" fill="#2a2a2a" />
<rect x="690.0" y="225.0" width="9.0" height="5.0" fill="#d4d6d6" />
<rect x="692.5" y="225.0" width="4.0" height="5.0" fill="#2a2a2a" />
<rect x="748.0" y="242.0" width="9.0" height="5.0" fill="#d4d6d6" />
<rect x="750.5" y="242.0" width="4.0" height="5.0" fill="#2a2a2a" />
<rect x="761.0" y="273.0" width="9.0" height="5.0" fill="#d4d6d6" />
<rect x="763.5" y="273.0" width="4.0" height="5.0" fill="#2a2a2a" />
<rect x="662.0" y="290.0" width="9.0" height="5.0" fill="#d4d6d6" />
<rect x="664.5" y="290.0" width="4.0" height="5.0" fill="#2a2a2a" />
<rect x="662.0" y="300.0" width="9.0" height="5.0" fill="#d4d6d6" />
<rect x="664.5" y="300.0" width="4.0" height="5.0" fill="#2a2a2a" />
<rect x="620.0" y="285.0" width="5.0" height="9.0" fill="#d4d6d6" />
<rect x="620.0" y="287.5" width="5.0" height="4.0" fill="#2a2a2a" />
<rect x="652.0" y="205.0" width="5.0" height="9.0" fill="#d4d6d6" />
<rect x="652.0" y="207.5" width="5.0" height="4.0" fill="#2a2a2a" />
<rect x="742.0" y="277.0" width="6.0" height="4.0" fill="#d4d6d6" />
<rect x="743.7" y="277.0" width="2.6" height="4.0" fill="#2a2a2a" />
<rect x="700.0" y="112.0" width="6.0" height="4.0" fill="#d4d6d6" />
<rect x="701.7" y="112.0" width="2.6" height="4.0" fill="#2a2a2a" />
<rect x="770.0" y="232.0" width="6.0" height="4.0" fill="#d4d6d6" />
<rect x="771.7" y="232.0" width="2.6" height="4.0" fill="#2a2a2a" />
<rect x="636.5" y="252.8" width="11.0" height="7.0" fill="#d8d8d0" rx="1"/>
<rect x="638.7" y="252.8" width="6.6" height="7.0" fill="#a8745a" />
<rect x="636.5" y="262.7" width="11.0" height="6.5" fill="#d8d8d0" rx="1"/>
<rect x="638.7" y="262.7" width="6.6" height="6.5" fill="#a8745a" />
<rect x="636.5" y="288.0" width="11.0" height="7.5" fill="#d8d8d0" rx="1"/>
<rect x="638.7" y="288.0" width="6.6" height="7.5" fill="#a8745a" />
<rect x="636.5" y="298.5" width="11.0" height="6.5" fill="#d8d8d0" rx="1"/>
<rect x="638.7" y="298.5" width="6.6" height="6.5" fill="#a8745a" />
<rect x="758.6" y="211.3" width="19.8" height="9.0" fill="#d8d8d0" rx="1"/>
<rect x="762.6" y="211.3" width="11.9" height="9.0" fill="#a8745a" />
<rect x="747.8" y="258.9" width="19.8" height="9.0" fill="#d8d8d0" rx="1"/>
<rect x="751.8" y="258.9" width="11.9" height="9.0" fill="#a8745a" />
<rect x="624.0" y="296.0" width="10.0" height="6.0" fill="#d8d8d0" rx="1"/>
<rect x="626.0" y="296.0" width="6.0" height="6.0" fill="#a8745a" />
<rect x="700.8" y="214.0" width="10.9" height="17.2" fill="#d8d8d0" rx="1"/>
<rect x="700.8" y="217.4" width="10.9" height="10.3" fill="#a8745a" />
<rect x="732.4" y="258.0" width="12.6" height="17.1" fill="#d0ccc4" />
<rect x="733.5" y="262.0" width="10.4" height="9.0" fill="#7a6a5a" />
<rect x="553.0" y="151.2" width="61.4" height="48.3" fill="#1e1e1e" />
<rect x="554.5" y="152.5" width="37.0" height="44.0" fill="#2f2f2f" />
<rect x="594.0" y="154.0" width="18.0" height="42.0" fill="#161616" />
<rect x="596.0" y="163.0" width="14.0" height="1.5" fill="#bbbbbb" />
<text x="578.0" y="157.0" font-size="7.5" fill="#7a7a7a" transform="rotate(90 578 157)">MADE IN</text>
<text x="569.0" y="159.0" font-size="7.5" fill="#7a7a7a" transform="rotate(90 569 159)">CHINA</text>
<rect x="553.5" y="151.7" width="60.4" height="47.3" fill="none" stroke="#555" stroke-width="1"/>
<rect x="553.0" y="199.5" width="35.0" height="4.0" fill="#2aa852" />
<rect x="560.0" y="199.0" width="5.0" height="4.0" fill="#e0e0e0" />
<rect x="570.0" y="199.0" width="5.0" height="4.0" fill="#e0e0e0" />
<rect x="580.0" y="199.0" width="5.0" height="4.0" fill="#e0e0e0" />
<text x="625.0" y="198.0" font-size="7" fill="#e6fbee" transform="rotate(-50 625 198)">GND</text>
<text x="625.0" y="180.0" font-size="7" fill="#e6fbee" transform="rotate(-50 625 180)">GND</text>
<text x="622.0" y="232.0" font-size="7" fill="#e6fbee" transform="rotate(-50 622 232)">VBAT</text>
<circle cx="597.3" cy="214.9" r="8.1" fill="#1c1c1c" />
<rect x="592.8" y="212.6" width="8.9" height="4.5" fill="#d0d0d0" transform="rotate(20 597.3 214.9)"/>
<circle cx="621.7" cy="219.4" r="9.9" fill="#cc2f38" />
<rect x="616.3" y="216.6" width="10.9" height="5.5" fill="#e0e0e0" transform="rotate(20 621.7 219.4)"/>
<circle cx="600.7" cy="244.8" r="9.2" fill="#cc2f38" />
<rect x="595.6" y="242.2" width="10.1" height="5.2" fill="#e0e0e0" transform="rotate(20 600.7 244.8)"/>
<circle cx="617.0" cy="249.5" r="2.8" fill="#c9a24e" />
<circle cx="617.0" cy="249.5" r="1.3" fill="#e8d8a0" />
<circle cx="622.0" cy="272.0" r="2.8" fill="#c9a24e" />
<circle cx="622.0" cy="272.0" r="1.3" fill="#e8d8a0" />
<circle cx="614.0" cy="293.0" r="2.8" fill="#c9a24e" />
<circle cx="614.0" cy="293.0" r="1.3" fill="#e8d8a0" />
<circle cx="660.0" cy="270.0" r="2.8" fill="#c9a24e" />
<circle cx="660.0" cy="270.0" r="1.3" fill="#e8d8a0" />
<circle cx="660.0" cy="284.0" r="2.8" fill="#c9a24e" />
<circle cx="660.0" cy="284.0" r="1.3" fill="#e8d8a0" />
<circle cx="664.0" cy="300.0" r="2.8" fill="#c9a24e" />
<circle cx="664.0" cy="300.0" r="1.3" fill="#e8d8a0" />
<circle cx="700.0" cy="300.0" r="2.8" fill="#c9a24e" />
<circle cx="700.0" cy="300.0" r="1.3" fill="#e8d8a0" />
<circle cx="740.0" cy="227.0" r="2.8" fill="#c9a24e" />
<circle cx="740.0" cy="227.0" r="1.3" fill="#e8d8a0" />
<circle cx="745.0" cy="290.0" r="2.8" fill="#c9a24e" />
<circle cx="745.0" cy="290.0" r="1.3" fill="#e8d8a0" />
<circle cx="632.0" cy="240.0" r="2.8" fill="#c9a24e" />
<circle cx="632.0" cy="240.0" r="1.3" fill="#e8d8a0" />
<circle cx="650.0" cy="215.0" r="2.8" fill="#c9a24e" />
<circle cx="650.0" cy="215.0" r="1.3" fill="#e8d8a0" />
<circle cx="668.0" cy="224.0" r="2.8" fill="#c9a24e" />
<circle cx="668.0" cy="224.0" r="1.3" fill="#e8d8a0" />
<circle cx="690.0" cy="243.0" r="2.8" fill="#c9a24e" />
<circle cx="690.0" cy="243.0" r="1.3" fill="#e8d8a0" />
<circle cx="765.0" cy="290.0" r="2.8" fill="#c9a24e" />
<circle cx="765.0" cy="290.0" r="1.3" fill="#e8d8a0" />
<circle cx="640.0" cy="180.0" r="2.8" fill="#c9a24e" />
<circle cx="640.0" cy="180.0" r="1.3" fill="#e8d8a0" />
<circle cx="612.0" cy="176.0" r="2.8" fill="#c9a24e" />
<circle cx="612.0" cy="176.0" r="1.3" fill="#e8d8a0" />
<circle cx="626.0" cy="167.0" r="2.8" fill="#c9a24e" />
<circle cx="626.0" cy="167.0" r="1.3" fill="#e8d8a0" />
<rect x="679.2" y="238.0" width="1.2" height="8.5" fill="#cfd2c8" />
<rect x="679.2" y="282.3" width="1.2" height="8.5" fill="#cfd2c8" />
<rect x="681.6" y="238.0" width="1.2" height="8.5" fill="#cfd2c8" />
<rect x="681.6" y="282.3" width="1.2" height="8.5" fill="#cfd2c8" />
<rect x="684.0" y="238.0" width="1.2" height="8.5" fill="#cfd2c8" />
<rect x="684.0" y="282.3" width="1.2" height="8.5" fill="#cfd2c8" />
<rect x="686.4" y="238.0" width="1.2" height="8.5" fill="#cfd2c8" />
<rect x="686.4" y="282.3" width="1.2" height="8.5" fill="#cfd2c8" />
<rect x="688.8" y="238.0" width="1.2" height="8.5" fill="#cfd2c8" />
<rect x="688.8" y="282.3" width="1.2" height="8.5" fill="#cfd2c8" />
<rect x="691.2" y="238.0" width="1.2" height="8.5" fill="#cfd2c8" />
<rect x="691.2" y="282.3" width="1.2" height="8.5" fill="#cfd2c8" />
<rect x="693.6" y="238.0" width="1.2" height="8.5" fill="#cfd2c8" />
<rect x="693.6" y="282.3" width="1.2" height="8.5" fill="#cfd2c8" />
<rect x="696.0" y="238.0" width="1.2" height="8.5" fill="#cfd2c8" />
<rect x="696.0" y="282.3" width="1.2" height="8.5" fill="#cfd2c8" />
<rect x="698.4" y="238.0" width="1.2" height="8.5" fill="#cfd2c8" />
<rect x="698.4" y="282.3" width="1.2" height="8.5" fill="#cfd2c8" />
<rect x="700.8" y="238.0" width="1.2" height="8.5" fill="#cfd2c8" />
<rect x="700.8" y="282.3" width="1.2" height="8.5" fill="#cfd2c8" />
<rect x="703.2" y="238.0" width="1.2" height="8.5" fill="#cfd2c8" />
<rect x="703.2" y="282.3" width="1.2" height="8.5" fill="#cfd2c8" />
<rect x="705.6" y="238.0" width="1.2" height="8.5" fill="#cfd2c8" />
<rect x="705.6" y="282.3" width="1.2" height="8.5" fill="#cfd2c8" />
<rect x="708.0" y="238.0" width="1.2" height="8.5" fill="#cfd2c8" />
<rect x="708.0" y="282.3" width="1.2" height="8.5" fill="#cfd2c8" />
<rect x="669.9" y="248.2" width="8.5" height="1.2" fill="#cfd2c8" />
<rect x="710.0" y="248.2" width="8.5" height="1.2" fill="#cfd2c8" />
<rect x="669.9" y="250.6" width="8.5" height="1.2" fill="#cfd2c8" />
<rect x="710.0" y="250.6" width="8.5" height="1.2" fill="#cfd2c8" />
<rect x="669.9" y="253.0" width="8.5" height="1.2" fill="#cfd2c8" />
<rect x="710.0" y="253.0" width="8.5" height="1.2" fill="#cfd2c8" />
<rect x="669.9" y="255.4" width="8.5" height="1.2" fill="#cfd2c8" />
<rect x="710.0" y="255.4" width="8.5" height="1.2" fill="#cfd2c8" />
<rect x="669.9" y="257.8" width="8.5" height="1.2" fill="#cfd2c8" />
<rect x="710.0" y="257.8" width="8.5" height="1.2" fill="#cfd2c8" />
<rect x="669.9" y="260.2" width="8.5" height="1.2" fill="#cfd2c8" />
<rect x="710.0" y="260.2" width="8.5" height="1.2" fill="#cfd2c8" />
<rect x="669.9" y="262.6" width="8.5" height="1.2" fill="#cfd2c8" />
<rect x="710.0" y="262.6" width="8.5" height="1.2" fill="#cfd2c8" />
<rect x="669.9" y="265.0" width="8.5" height="1.2" fill="#cfd2c8" />
<rect x="710.0" y="265.0" width="8.5" height="1.2" fill="#cfd2c8" />
<rect x="669.9" y="267.4" width="8.5" height="1.2" fill="#cfd2c8" />
<rect x="710.0" y="267.4" width="8.5" height="1.2" fill="#cfd2c8" />
<rect x="669.9" y="269.8" width="8.5" height="1.2" fill="#cfd2c8" />
<rect x="710.0" y="269.8" width="8.5" height="1.2" fill="#cfd2c8" />
<rect x="669.9" y="272.2" width="8.5" height="1.2" fill="#cfd2c8" />
<rect x="710.0" y="272.2" width="8.5" height="1.2" fill="#cfd2c8" />
<rect x="669.9" y="274.6" width="8.5" height="1.2" fill="#cfd2c8" />
<rect x="710.0" y="274.6" width="8.5" height="1.2" fill="#cfd2c8" />
<rect x="669.9" y="277.0" width="8.5" height="1.2" fill="#cfd2c8" />
<rect x="710.0" y="277.0" width="8.5" height="1.2" fill="#cfd2c8" />
<rect x="669.9" y="279.4" width="8.5" height="1.2" fill="#cfd2c8" />
<rect x="710.0" y="279.4" width="8.5" height="1.2" fill="#cfd2c8" />
<rect x="678.4" y="246.5" width="31.6" height="35.8" fill="#2e2e2e" />
<rect x="715.3" y="199.6" width="29.7" height="30.7" fill="#cfcfcf" />
<rect x="717.5" y="201.8" width="25.3" height="26.3" fill="#3b3b3b" />
<text x="729.0" y="205.0" font-size="6.5" fill="#eee" transform="rotate(90 729 205)">c 103</text>
<rect x="723.0" y="206.0" width="1.0" height="12.0" fill="#eee" />
<rect x="772.0" y="232.0" width="13.0" height="70.0" fill="#1aa546" />
<rect x="772" y="232" width="13" height="70" fill="none" stroke="#e8f8ee" stroke-width="0.8"/>
<circle cx="778.4" cy="241.7" r="4.2" fill="#b88a3a" />
<circle cx="778.4" cy="241.7" r="2.3" fill="#dcdcd8" />
<circle cx="778.4" cy="255.3" r="4.2" fill="#b88a3a" />
<circle cx="778.4" cy="255.3" r="2.3" fill="#dcdcd8" />
<circle cx="778.4" cy="268.3" r="4.2" fill="#b88a3a" />
<circle cx="778.4" cy="268.3" r="2.3" fill="#dcdcd8" />
<circle cx="778.4" cy="281.4" r="4.2" fill="#b88a3a" />
<circle cx="778.4" cy="281.4" r="2.3" fill="#dcdcd8" />
<circle cx="778.4" cy="294.6" r="4.2" fill="#b88a3a" />
<circle cx="778.4" cy="294.6" r="2.3" fill="#dcdcd8" />
<text x="774.0" y="230.0" font-size="6" fill="#e6fbee" >J2</text>
<rect x="574.3" y="228.3" width="13.1" height="39.3" fill="#1c1c1c" />
<rect x="579.6" y="233.7" width="2.4" height="2.4" fill="#c8a850" />
<rect x="579.6" y="246.8" width="2.4" height="2.4" fill="#c8a850" />
<rect x="579.6" y="259.9" width="2.4" height="2.4" fill="#c8a850" />
<rect x="593.4" y="254.8" width="13.9" height="26.8" fill="#1c1c1c" />
<rect x="596.0" y="262.0" width="9.0" height="12.0" fill="#111" />
<rect x="599.0" y="264.0" width="3.0" height="8.0" fill="#c8a850" />
<rect x="574.5" y="275.0" width="13.0" height="25.0" fill="#1c1c1c" />
<rect x="577.0" y="279.0" width="8.0" height="17.0" fill="#121212" />
<rect x="579.0" y="281.0" width="4.0" height="13.0" fill="#c8a850" />
<rect x="575.0" y="302.5" width="13.5" height="15.5" fill="#efe6d2" />
<rect x="578.0" y="306.0" width="7.5" height="7.0" fill="#e4d6b8" />
<rect x="591.0" y="290.0" width="14.5" height="27.0" fill="#1c1c1c" />
<rect x="594.0" y="295.0" width="8.0" height="17.0" fill="#121212" />
<rect x="596.0" y="297.0" width="4.0" height="13.0" fill="#c8a850" />
<text x="572.0" y="323.0" font-size="6" fill="#e6fbee" >J10 P5V0</text>
<text x="636.0" y="148.0" font-size="7" fill="#e6fbee" transform="rotate(90 636 148)">R27</text>
<text x="646.0" y="168.0" font-size="7" fill="#e6fbee" transform="rotate(90 646 168)">C9</text>
<text x="645.0" y="186.0" font-size="7" fill="#e6fbee" transform="rotate(90 645 186)">C8</text>
<text x="638.0" y="203.0" font-size="7" fill="#e6fbee" >D20</text>
<text x="641.0" y="213.0" font-size="7" fill="#e6fbee" >R17</text>
<text x="655.0" y="218.0" font-size="7" fill="#e6fbee" >R18</text>
<text x="612.0" y="207.0" font-size="7" fill="#e6fbee" >C7C10</text>
<text x="606.0" y="207.0" font-size="7" fill="#e6fbee" transform="rotate(90 606 207)">VBAT P5V0</text>
<text x="598.0" y="236.0" font-size="7" fill="#e6fbee" >TP19</text>
<text x="657.0" y="222.0" font-size="7" fill="#e6fbee" transform="rotate(90 657 222)">R337</text>
<text x="666.0" y="238.0" font-size="7" fill="#e6fbee" >R2048 U27</text>
<text x="704.0" y="238.0" font-size="7" fill="#e6fbee" >C26</text>
<text x="665.0" y="245.0" font-size="7" fill="#e6fbee" >R11</text>
<text x="632.0" y="252.0" font-size="7" fill="#e6fbee" transform="rotate(90 632 252)">TP88</text>
<text x="638.0" y="281.0" font-size="7" fill="#e6fbee" >R16</text>
<text x="636.0" y="294.0" font-size="7" fill="#e6fbee" >C39</text>
<text x="617.0" y="274.0" font-size="7" fill="#e6fbee" transform="rotate(90 617 274)">TP3</text>
<text x="611.0" y="268.0" font-size="7" fill="#e6fbee" transform="rotate(90 611 268)">JV1N</text>
<text x="622.0" y="310.0" font-size="7" fill="#e6fbee" >R40</text>
<text x="700.0" y="307.0" font-size="7" fill="#e6fbee" >TP302</text>
<text x="722.0" y="307.0" font-size="7" fill="#e6fbee" >R41</text>
<text x="700.0" y="313.0" font-size="7" fill="#e6fbee" >TP303</text>
<text x="710.0" y="246.0" font-size="7" fill="#e6fbee" >37</text>
<text x="722.0" y="244.0" font-size="7" fill="#e6fbee" >R47</text>
<text x="744.0" y="247.0" font-size="7" fill="#e6fbee" >C23</text>
<text x="727.0" y="257.0" font-size="7" fill="#e6fbee" >L11</text>
<text x="740.0" y="257.0" font-size="7" fill="#e6fbee" >LCORE1</text>
<text x="712.0" y="262.0" font-size="7" fill="#e6fbee" transform="rotate(90 712 262)">R316</text>
<text x="744.0" y="276.0" font-size="7" fill="#e6fbee" >R28</text>
<text x="757.0" y="276.0" font-size="7" fill="#e6fbee" >C33</text>
<text x="745.0" y="283.0" font-size="7" fill="#e6fbee" >TP294</text>
<text x="745.0" y="291.0" font-size="7" fill="#e6fbee" >R44</text>
<text x="745.0" y="298.0" font-size="7" fill="#e6fbee" >R43</text>
<text x="745.0" y="305.0" font-size="7" fill="#e6fbee" >R42</text>
<text x="781.0" y="300.0" font-size="7" fill="#e6fbee" transform="rotate(90 781 300)">TP300</text>
<text x="758.0" y="226.0" font-size="7" fill="#e6fbee" transform="rotate(90 758 226)">CCORE1</text>
<text x="768.0" y="228.0" font-size="7" fill="#e6fbee" >C32</text>
<text x="748.0" y="224.0" font-size="7" fill="#e6fbee" >L18</text>
<text x="727.0" y="236.0" font-size="7" fill="#e6fbee" >C21</text>
<text x="697.0" y="197.0" font-size="7" fill="#e6fbee" >C5</text>
<text x="682.0" y="163.0" font-size="7" fill="#e6fbee" transform="rotate(90 682 163)">R13</text>
<text x="688.0" y="178.0" font-size="7" fill="#e6fbee" >D1</text>
<text x="692.0" y="89.0" font-size="7" fill="#e6fbee" transform="rotate(90 692 89)">C8</text>
<text x="708.0" y="86.0" font-size="7" fill="#e6fbee" >J4</text>
<text x="717.0" y="130.0" font-size="7" fill="#e6fbee" >D38</text>
<text x="749.0" y="88.0" font-size="7" fill="#e6fbee" >J5</text>
<text x="766.0" y="131.0" font-size="7" fill="#e6fbee" >C15</text>
<text x="781.0" y="131.0" font-size="7" fill="#e6fbee" >C1</text>
<text x="700.0" y="128.0" font-size="7" fill="#e6fbee" >Q1</text>
<text x="600.0" y="358.0" font-size="7" fill="#e6fbee" >J7</text>
<text x="620.0" y="364.0" font-size="7" fill="#e6fbee" >J59</text>
<text x="578.0" y="373.0" font-size="7" fill="#e6fbee" >J31</text>
<rect x="801.8" y="81.9" width="85.7" height="22.0" fill="#14b553" />
<rect x="803.3" y="91.6" width="15.5" height="6.4" fill="#1c1c1c" />
<rect x="804.8" y="98.0" width="3.0" height="4.0" fill="#d0ccc4" />
<rect x="813.3" y="98.0" width="3.0" height="4.0" fill="#d0ccc4" />
<rect x="809.3" y="87.5" width="3.0" height="4.0" fill="#d0ccc4" />
<rect x="831.2" y="91.6" width="15.5" height="6.4" fill="#1c1c1c" />
<rect x="832.7" y="98.0" width="3.0" height="4.0" fill="#d0ccc4" />
<rect x="841.2" y="98.0" width="3.0" height="4.0" fill="#d0ccc4" />
<rect x="837.2" y="87.5" width="3.0" height="4.0" fill="#d0ccc4" />
<rect x="822.2" y="87.7" width="5.5" height="12.3" fill="#e6dccb" />
<rect x="823.2" y="89.5" width="3.5" height="8.5" fill="#f8f2e4" />
<rect x="850.0" y="87.7" width="5.5" height="12.3" fill="#e6dccb" />
<rect x="851.0" y="89.5" width="3.5" height="8.5" fill="#f8f2e4" />
<rect x="858.5" y="87.7" width="5.5" height="12.3" fill="#e6dccb" />
<rect x="859.5" y="89.5" width="3.5" height="8.5" fill="#f8f2e4" />
<rect x="866.5" y="87.7" width="5.5" height="12.3" fill="#e6dccb" />
<rect x="867.5" y="89.5" width="3.5" height="8.5" fill="#f8f2e4" />
<rect x="875.0" y="87.7" width="5.5" height="12.3" fill="#e6dccb" />
<rect x="876.0" y="89.5" width="3.5" height="8.5" fill="#f8f2e4" />
<text x="812.0" y="87.0" font-size="5.2" fill="#e6fbee" >D18 ZD3 D19 D15 D17 D31</text>
<path d="M887.5 82.1 H1044.7 V144.5 H1063.2 V192.5 H1030.3 V212.9 H860.1 V139.4 H887.5 Z" fill="#14b553" stroke="none" stroke-width="1" />
<path d="M870 200 H1030" fill="none" stroke="#0b8a3e" stroke-width="1.3"/>
<path d="M900 120 V140 H915" fill="none" stroke="#0b8a3e" stroke-width="1.3"/>
<path d="M980 120 L1000 140 V190" fill="none" stroke="#0b8a3e" stroke-width="1.3"/>
<path d="M1000 190 H1028" fill="none" stroke="#0b8a3e" stroke-width="1.3"/>
<path d="M960 180 V200 H990" fill="none" stroke="#0b8a3e" stroke-width="1.3"/>
<path d="M990 110 L1005 125" fill="none" stroke="#0b8a3e" stroke-width="1.3"/>
<path d="M880 175 H918" fill="none" stroke="#0b8a3e" stroke-width="1.3"/>
<path d="M1030 170 H1000" fill="none" stroke="#0b8a3e" stroke-width="1.3"/>
<path d="M1028 160 H995" fill="none" stroke="#0b8a3e" stroke-width="1.3"/>
<path d="M875 150 H900 L910 140" fill="none" stroke="#0b8a3e" stroke-width="1.3"/>
<path d="M940 120 H975 V110" fill="none" stroke="#0b8a3e" stroke-width="1.3"/>
<path d="M1040 150 V200" fill="none" stroke="#0b8a3e" stroke-width="1.3"/>
<rect x="889.0" y="88.0" width="6.0" height="11.0" fill="#e8e0d0" />
<rect x="890.0" y="90.0" width="4.0" height="7.0" fill="#f6f0e2" />
<circle cx="898.0" cy="107.0" r="3.0" fill="#c9a24e" />
<circle cx="898.0" cy="107.0" r="1.4" fill="#e8d8a0" />
<circle cx="911.0" cy="96.0" r="3.0" fill="#c9a24e" />
<circle cx="911.0" cy="96.0" r="1.4" fill="#e8d8a0" />
<circle cx="895.0" cy="145.0" r="3.0" fill="#c9a24e" />
<circle cx="895.0" cy="145.0" r="1.4" fill="#e8d8a0" />
<circle cx="911.0" cy="148.0" r="3.0" fill="#c9a24e" />
<circle cx="911.0" cy="148.0" r="1.4" fill="#e8d8a0" />
<rect x="929.5" y="83.8" width="34.0" height="30.3" fill="#d2d6d8" />
<rect x="932.0" y="86.0" width="29.0" height="25.5" fill="#dde1e3" />
<circle cx="947.2" cy="97.7" r="8.5" fill="#1e1e1e" />
<circle cx="945.5" cy="95.5" r="3.0" fill="#3a3a3a" />
<circle cx="932.5" cy="87.0" r="2.3" fill="#222" />
<circle cx="961.0" cy="87.0" r="2.3" fill="#222" />
<circle cx="932.5" cy="111.0" r="2.3" fill="#222" />
<circle cx="961.0" cy="111.0" r="2.3" fill="#222" />
<text x="925.0" y="121.0" font-size="6.5" fill="#e6fbee" >C66 2 RESET OSDA</text>
<rect x="890.4" y="123.0" width="11.3" height="13.9" fill="#cfcfcf" />
<rect x="891.8" y="125.0" width="8.5" height="10.0" fill="#2a2a2a" />
<rect x="863.8" y="145.7" width="11.4" height="18.5" fill="#1e1e1e" />
<rect x="980.3" y="96.5" width="16.4" height="10.1" fill="#1e1e1e" />
<rect x="982.0" y="92.5" width="2.0" height="4.0" fill="#ccc" />
<rect x="982.0" y="106.6" width="2.0" height="4.0" fill="#ccc" />
<rect x="987.5" y="92.5" width="2.0" height="4.0" fill="#ccc" />
<rect x="987.5" y="106.6" width="2.0" height="4.0" fill="#ccc" />
<rect x="993.0" y="92.5" width="2.0" height="4.0" fill="#ccc" />
<rect x="993.0" y="106.6" width="2.0" height="4.0" fill="#ccc" />
<rect x="905.0" y="103.0" width="3.5" height="10.0" fill="#1e1e1e" />
<rect x="911.0" y="103.0" width="3.5" height="10.0" fill="#1e1e1e" />
<rect x="917.0" y="103.0" width="3.5" height="10.0" fill="#1e1e1e" />
<rect x="923.0" y="103.0" width="3.5" height="10.0" fill="#1e1e1e" />
<rect x="974.0" y="142.5" width="10.0" height="3.0" fill="#1e1e1e" />
<rect x="974.0" y="147.1" width="10.0" height="3.0" fill="#1e1e1e" />
<rect x="974.0" y="151.7" width="10.0" height="3.0" fill="#1e1e1e" />
<rect x="974.0" y="156.3" width="10.0" height="3.0" fill="#1e1e1e" />
<rect x="974.0" y="160.9" width="10.0" height="3.0" fill="#1e1e1e" />
<rect x="974.0" y="165.5" width="10.0" height="3.0" fill="#1e1e1e" />
<rect x="922.0" y="179.0" width="3.5" height="8.0" fill="#1e1e1e" />
<rect x="927.0" y="179.0" width="3.5" height="8.0" fill="#1e1e1e" />
<rect x="932.0" y="179.0" width="3.5" height="8.0" fill="#1e1e1e" />
<rect x="937.0" y="179.0" width="3.5" height="8.0" fill="#1e1e1e" />
<rect x="906.0" y="124.0" width="6.0" height="4.0" fill="#d4d6d6" />
<rect x="907.7" y="124.0" width="2.6" height="4.0" fill="#2a2a2a" />
<rect x="906.0" y="131.0" width="6.0" height="4.0" fill="#d4d6d6" />
<rect x="907.7" y="131.0" width="2.6" height="4.0" fill="#2a2a2a" />
<rect x="880.0" y="156.0" width="8.0" height="4.0" fill="#d4d6d6" />
<rect x="882.2" y="156.0" width="3.5" height="4.0" fill="#2a2a2a" />
<rect x="880.0" y="163.0" width="8.0" height="4.0" fill="#d4d6d6" />
<rect x="882.2" y="163.0" width="3.5" height="4.0" fill="#2a2a2a" />
<rect x="890.0" y="175.0" width="8.0" height="4.0" fill="#d4d6d6" />
<rect x="892.2" y="175.0" width="3.5" height="4.0" fill="#2a2a2a" />
<rect x="890.0" y="182.0" width="8.0" height="4.0" fill="#d4d6d6" />
<rect x="892.2" y="182.0" width="3.5" height="4.0" fill="#2a2a2a" />
<rect x="904.0" y="175.0" width="8.0" height="4.0" fill="#d4d6d6" />
<rect x="906.2" y="175.0" width="3.5" height="4.0" fill="#2a2a2a" />
<rect x="904.0" y="182.0" width="8.0" height="4.0" fill="#d4d6d6" />
<rect x="906.2" y="182.0" width="3.5" height="4.0" fill="#2a2a2a" />
<rect x="880.0" y="203.0" width="6.0" height="4.0" fill="#d4d6d6" />
<rect x="881.7" y="203.0" width="2.6" height="4.0" fill="#2a2a2a" />
<rect x="893.0" y="203.0" width="4.0" height="8.0" fill="#d4d6d6" />
<rect x="893.0" y="205.2" width="4.0" height="3.5" fill="#2a2a2a" />
<rect x="909.0" y="203.0" width="4.0" height="8.0" fill="#d4d6d6" />
<rect x="909.0" y="205.2" width="4.0" height="3.5" fill="#2a2a2a" />
<rect x="947.0" y="203.0" width="4.0" height="8.0" fill="#d4d6d6" />
<rect x="947.0" y="205.2" width="4.0" height="3.5" fill="#2a2a2a" />
<rect x="960.0" y="203.0" width="4.0" height="8.0" fill="#d4d6d6" />
<rect x="960.0" y="205.2" width="4.0" height="3.5" fill="#2a2a2a" />
<rect x="1010.0" y="165.0" width="6.0" height="4.0" fill="#d4d6d6" />
<rect x="1011.7" y="165.0" width="2.6" height="4.0" fill="#2a2a2a" />
<rect x="1018.0" y="200.0" width="6.0" height="4.0" fill="#d4d6d6" />
<rect x="1019.7" y="200.0" width="2.6" height="4.0" fill="#2a2a2a" />
<rect x="1002.0" y="82.0" width="6.0" height="4.0" fill="#d4d6d6" />
<rect x="1003.7" y="82.0" width="2.6" height="4.0" fill="#2a2a2a" />
<rect x="967.0" y="183.0" width="5.5" height="10.0" fill="#e8e4dc" />
<rect x="1001.0" y="196.0" width="6.0" height="6.0" fill="#1e1e1e" />
<rect x="918.1" y="124.3" width="52.1" height="49.4" fill="#3b3638" />
<text x="944" y="138.5" font-size="7" text-anchor="middle" fill="#8a8580" transform="rotate(180 944 136)">CTB2107B</text>
<text x="944" y="147.5" font-size="7" text-anchor="middle" fill="#8a8580" transform="rotate(180 944 145)">0N65H</text>
<text x="944" y="156.5" font-size="7" text-anchor="middle" fill="#8a8580" transform="rotate(180 944 154)">VM11B</text>
<text x="944" y="165.5" font-size="7" text-anchor="middle" fill="#8a8580" transform="rotate(180 944 163)">MK26FN2M0</text>
<circle cx="897.6" cy="164.2" r="3.0" fill="#c9a24e" />
<circle cx="897.6" cy="164.2" r="1.4" fill="#e8d8a0" />
<circle cx="906.4" cy="164.2" r="3.0" fill="#c9a24e" />
<circle cx="906.4" cy="164.2" r="1.4" fill="#e8d8a0" />
<circle cx="917.3" cy="194.6" r="3.0" fill="#c9a24e" />
<circle cx="917.3" cy="194.6" r="1.4" fill="#e8d8a0" />
<circle cx="935.7" cy="195.5" r="3.0" fill="#c9a24e" />
<circle cx="935.7" cy="195.5" r="1.4" fill="#e8d8a0" />
<circle cx="866.5" cy="206.3" r="3.0" fill="#c9a24e" />
<circle cx="866.5" cy="206.3" r="1.4" fill="#e8d8a0" />
<circle cx="974.0" cy="83.0" r="3.0" fill="#c9a24e" />
<circle cx="974.0" cy="83.0" r="1.4" fill="#e8d8a0" />
<circle cx="1003.0" cy="101.0" r="3.0" fill="#c9a24e" />
<circle cx="1003.0" cy="101.0" r="1.4" fill="#e8d8a0" />
<circle cx="996.0" cy="128.0" r="3.0" fill="#c9a24e" />
<circle cx="996.0" cy="128.0" r="1.4" fill="#e8d8a0" />
<circle cx="1020.0" cy="95.0" r="3.0" fill="#c9a24e" />
<circle cx="1020.0" cy="95.0" r="1.4" fill="#e8d8a0" />
<circle cx="985.0" cy="122.0" r="3.0" fill="#c9a24e" />
<circle cx="985.0" cy="122.0" r="1.4" fill="#e8d8a0" />
<circle cx="980.0" cy="178.0" r="3.0" fill="#c9a24e" />
<circle cx="980.0" cy="178.0" r="1.4" fill="#e8d8a0" />
<circle cx="1004.0" cy="203.0" r="3.0" fill="#c9a24e" />
<circle cx="1004.0" cy="203.0" r="1.4" fill="#e8d8a0" />
<circle cx="1035.0" cy="113.0" r="3.0" fill="#c9a24e" />
<circle cx="1035.0" cy="113.0" r="1.4" fill="#e8d8a0" />
<rect x="883" y="180" width="35" height="12" fill="none" stroke="#e8f8ee" stroke-width="0.7"/>
<text x="970.0" y="187.0" font-size="6.5" fill="#e6fbee" >STATUS OSDA</text>
<text x="1012.0" y="144.0" font-size="6.5" fill="#e6fbee" transform="rotate(90 1012 144)">OPENSDA</text>
<circle cx="1011.9" cy="128.1" r="16.0" fill="#129a3e" />
<circle cx="1011.9" cy="128.1" r="13.9" fill="#f4f6f5" />
<circle cx="1035.9" cy="91.4" r="8.0" fill="#1c1c1c" />
<rect x="1031.5" y="89.2" width="8.8" height="4.5" fill="#d0d0d0" transform="rotate(20 1035.9 91.4)"/>
<rect x="1028.3" y="147.0" width="32.9" height="39.2" fill="#dfe2e2" />
<rect x="1028.3" y="147.0" width="7.0" height="39.2" fill="#a9aeae" />
<rect x="1040.0" y="155.0" width="16.0" height="24.0" fill="#f0f2f2" />
<rect x="1044.0" y="160.0" width="8.0" height="2.0" fill="#666" />
<rect x="1044.0" y="172.0" width="8.0" height="2.0" fill="#666" />
<text x="1050.0" y="163.0" font-size="5.5" fill="#444" transform="rotate(90 1050 163)">193</text>
<rect x="812.4" y="156.9" width="17.8" height="31.5" fill="#14b553" />
<rect x="815.0" y="159.0" width="13.0" height="27.0" fill="#1c1c1c" />
<rect x="817.0" y="167.0" width="9.0" height="11.0" fill="#101010" />
<rect x="820.0" y="169.0" width="3.0" height="7.0" fill="#c8a850" />
<rect x="795.0" y="201.5" width="32.0" height="18.7" fill="#14b553" />
<rect x="800.5" y="206.3" width="9.0" height="9.0" fill="#8a6a2a" />
<circle cx="805.0" cy="210.8" r="3.0" fill="#d8dce0" />
<circle cx="818.5" cy="210.8" r="4.8" fill="#9a7430" />
<circle cx="818.5" cy="210.8" r="3.0" fill="#d8dce0" />
<rect x="827.0" y="201.5" width="31.2" height="32.9" fill="#14b553" />
<rect x="830.0" y="203.5" width="6.0" height="10.0" fill="#e0d8c8" />
<rect x="830.0" y="206.0" width="6.0" height="5.0" fill="#8fb8c8" />
<rect x="829.5" y="216.5" width="7.0" height="12.0" fill="#e8e0d0" />
<rect x="830.5" y="218.0" width="5.0" height="9.0" fill="#f6efe0" />
<rect x="840.5" y="203.5" width="6.0" height="10.0" fill="#e0d8c8" />
<rect x="840.5" y="206.0" width="6.0" height="5.0" fill="#8fb8c8" />
<rect x="840.0" y="216.5" width="7.0" height="12.0" fill="#e8e0d0" />
<rect x="841.0" y="218.0" width="5.0" height="9.0" fill="#f6efe0" />
<rect x="851.0" y="203.5" width="6.0" height="10.0" fill="#e0d8c8" />
<rect x="851.0" y="206.0" width="6.0" height="5.0" fill="#8fb8c8" />
<rect x="850.5" y="216.5" width="7.0" height="12.0" fill="#e8e0d0" />
<rect x="851.5" y="218.0" width="5.0" height="9.0" fill="#f6efe0" />
<rect x="1007.0" y="212.7" width="25.4" height="35.0" fill="#14b553" />
<rect x="1010.5" y="215.2" width="19.0" height="30.0" fill="#1a1a1a" />
<rect x="1014.5" y="217.0" width="2.6" height="2.6" fill="#b89a48" />
<rect x="1014.5" y="223.0" width="2.6" height="2.6" fill="#b89a48" />
<rect x="1014.5" y="229.0" width="2.6" height="2.6" fill="#b89a48" />
<rect x="1014.5" y="235.0" width="2.6" height="2.6" fill="#b89a48" />
<rect x="1014.5" y="241.0" width="2.6" height="2.6" fill="#b89a48" />
<rect x="1023.0" y="217.0" width="2.6" height="2.6" fill="#b89a48" />
<rect x="1023.0" y="223.0" width="2.6" height="2.6" fill="#b89a48" />
<rect x="1023.0" y="229.0" width="2.6" height="2.6" fill="#b89a48" />
<rect x="1023.0" y="235.0" width="2.6" height="2.6" fill="#b89a48" />
<rect x="1023.0" y="241.0" width="2.6" height="2.6" fill="#b89a48" />
<rect x="1007.0" y="256.6" width="25.4" height="37.6" fill="#14b553" />
<rect x="1010.5" y="259.1" width="19.0" height="32.6" fill="#1a1a1a" />
<rect x="1014.5" y="260.9" width="2.6" height="2.6" fill="#b89a48" />
<rect x="1014.5" y="267.6" width="2.6" height="2.6" fill="#b89a48" />
<rect x="1014.5" y="274.2" width="2.6" height="2.6" fill="#b89a48" />
<rect x="1014.5" y="280.9" width="2.6" height="2.6" fill="#b89a48" />
<rect x="1014.5" y="287.5" width="2.6" height="2.6" fill="#b89a48" />
<rect x="1023.0" y="260.9" width="2.6" height="2.6" fill="#b89a48" />
<rect x="1023.0" y="267.6" width="2.6" height="2.6" fill="#b89a48" />
<rect x="1023.0" y="274.2" width="2.6" height="2.6" fill="#b89a48" />
<rect x="1023.0" y="280.9" width="2.6" height="2.6" fill="#b89a48" />
<rect x="1023.0" y="287.5" width="2.6" height="2.6" fill="#b89a48" />
<path d="M796.4 294.5 H851.7 V339 H844.5 V361.8 H796.4 Z" fill="#14b553" stroke="none" stroke-width="1" />
<path d="M800 310 L812 322" fill="none" stroke="#0b8a3e" stroke-width="1.3"/>
<path d="M800 330 H812" fill="none" stroke="#0b8a3e" stroke-width="1.3"/>
<path d="M838 340 V350" fill="none" stroke="#0b8a3e" stroke-width="1.3"/>
<path d="M800 345 H845" fill="none" stroke="#0b8a3e" stroke-width="1.3"/>
<rect x="814.0" y="297.0" width="2.6" height="7.5" fill="#cfd2cf" />
<rect x="814.0" y="324.5" width="2.6" height="8.0" fill="#cfd2cf" />
<rect x="820.2" y="297.0" width="2.6" height="7.5" fill="#cfd2cf" />
<rect x="820.2" y="324.5" width="2.6" height="8.0" fill="#cfd2cf" />
<rect x="826.7" y="297.0" width="2.6" height="7.5" fill="#cfd2cf" />
<rect x="826.7" y="324.5" width="2.6" height="8.0" fill="#cfd2cf" />
<rect x="833.5" y="297.0" width="2.6" height="7.5" fill="#cfd2cf" />
<rect x="833.5" y="324.5" width="2.6" height="8.0" fill="#cfd2cf" />
<rect x="812.7" y="304.2" width="26.1" height="20.4" fill="#252525" />
<rect x="842.2" y="298.0" width="6.9" height="13.4" fill="#e0e0e0" />
<rect x="842.2" y="301.0" width="6.9" height="7.5" fill="#1c1c1c" />
<rect x="841.4" y="318.0" width="8.5" height="20.0" fill="#dadada" rx="1"/>
<rect x="842.5" y="322.0" width="6.3" height="12.0" fill="#1f1f1f" />
<rect x="809.2" y="348.7" width="29.9" height="11.5" fill="#dedede" />
<rect x="814.0" y="348.7" width="20.0" height="11.5" fill="#1c1c1c" />
<circle cx="806.4" cy="313.0" r="3.0" fill="#c9a24e" />
<circle cx="806.4" cy="313.0" r="1.4" fill="#e8d8a0" />
<circle cx="806.0" cy="329.3" r="3.0" fill="#c9a24e" />
<circle cx="806.0" cy="329.3" r="1.4" fill="#e8d8a0" />
<circle cx="835.4" cy="338.5" r="3.0" fill="#c9a24e" />
<circle cx="835.4" cy="338.5" r="1.4" fill="#e8d8a0" />
<rect x="804.0" y="298.0" width="3.0" height="6.0" fill="#d4d6d6" />
<rect x="804.0" y="299.7" width="3.0" height="2.6" fill="#2a2a2a" />
<text x="802.0" y="345.0" font-size="5.5" fill="#e6fbee" >R203</text>
<text x="800.0" y="357.0" font-size="6" fill="#e6fbee" >D3</text>
<rect x="912.4" y="283.5" width="38.6" height="36.0" fill="#14b553" />
<rect x="913.7" y="286.2" width="30.8" height="15.8" fill="#d8d8d8" rx="1"/>
<rect x="916.0" y="286.2" width="26.0" height="15.8" fill="#3e3c3c" />
<rect x="920.0" y="305.0" width="3.0" height="10.0" fill="#1e1e1e" />
<rect x="927.0" y="305.0" width="3.0" height="10.0" fill="#1e1e1e" />
<rect x="932.0" y="306.0" width="14.0" height="9.0" fill="#dedede" />
<rect x="936.0" y="306.0" width="5.0" height="9.0" fill="#222" />
<text x="914.0" y="312.0" font-size="5" fill="#e6fbee" >199</text>
<text x="914.0" y="318.0" font-size="5" fill="#e6fbee" >190</text>
<rect x="951.0" y="292.7" width="38.5" height="14.1" fill="#14b553" />
<rect x="954.5" y="294.5" width="3.8" height="10.5" fill="#e0e0e0" />
<rect x="954.5" y="297.0" width="3.8" height="5.5" fill="#1a1a1a" />
<rect x="961.5" y="294.5" width="3.8" height="10.5" fill="#e0e0e0" />
<rect x="961.5" y="297.0" width="3.8" height="5.5" fill="#1a1a1a" />
<rect x="968.5" y="294.5" width="3.8" height="10.5" fill="#e0e0e0" />
<rect x="968.5" y="297.0" width="3.8" height="5.5" fill="#1a1a1a" />
<rect x="975.5" y="294.5" width="3.8" height="10.5" fill="#e0e0e0" />
<rect x="975.5" y="297.0" width="3.8" height="5.5" fill="#1a1a1a" />
<rect x="982.5" y="294.5" width="3.8" height="10.5" fill="#e0e0e0" />
<rect x="982.5" y="297.0" width="3.8" height="5.5" fill="#1a1a1a" />
<rect x="878.1" y="319.6" width="108.7" height="106.4" fill="#14b553" />
<rect x="880.7" y="321.7" width="103.9" height="99.7" fill="#0d6e34" />
<rect x="890.7" y="321.7" width="1.2" height="10.2" fill="#b9beb6" />
<rect x="890.7" y="413.8" width="1.2" height="8.0" fill="#b9beb6" />
<rect x="892.6" y="321.7" width="1.2" height="10.2" fill="#b9beb6" />
<rect x="892.6" y="413.8" width="1.2" height="8.0" fill="#b9beb6" />
<rect x="894.5" y="321.7" width="1.2" height="10.2" fill="#b9beb6" />
<rect x="894.5" y="413.8" width="1.2" height="8.0" fill="#b9beb6" />
<rect x="896.4" y="321.7" width="1.2" height="10.2" fill="#b9beb6" />
<rect x="896.4" y="413.8" width="1.2" height="8.0" fill="#b9beb6" />
<rect x="898.3" y="321.7" width="1.2" height="10.2" fill="#b9beb6" />
<rect x="898.3" y="413.8" width="1.2" height="8.0" fill="#b9beb6" />
<rect x="900.2" y="321.7" width="1.2" height="10.2" fill="#b9beb6" />
<rect x="900.2" y="413.8" width="1.2" height="8.0" fill="#b9beb6" />
<rect x="902.1" y="321.7" width="1.2" height="10.2" fill="#b9beb6" />
<rect x="902.1" y="413.8" width="1.2" height="8.0" fill="#b9beb6" />
<rect x="904.0" y="321.7" width="1.2" height="10.2" fill="#b9beb6" />
<rect x="904.0" y="413.8" width="1.2" height="8.0" fill="#b9beb6" />
<rect x="905.9" y="321.7" width="1.2" height="10.2" fill="#b9beb6" />
<rect x="905.9" y="413.8" width="1.2" height="8.0" fill="#b9beb6" />
<rect x="907.8" y="321.7" width="1.2" height="10.2" fill="#b9beb6" />
<rect x="907.8" y="413.8" width="1.2" height="8.0" fill="#b9beb6" />
<rect x="909.7" y="321.7" width="1.2" height="10.2" fill="#b9beb6" />
<rect x="909.7" y="413.8" width="1.2" height="8.0" fill="#b9beb6" />
<rect x="911.6" y="321.7" width="1.2" height="10.2" fill="#b9beb6" />
<rect x="911.6" y="413.8" width="1.2" height="8.0" fill="#b9beb6" />
<rect x="913.5" y="321.7" width="1.2" height="10.2" fill="#b9beb6" />
<rect x="913.5" y="413.8" width="1.2" height="8.0" fill="#b9beb6" />
<rect x="915.4" y="321.7" width="1.2" height="10.2" fill="#b9beb6" />
<rect x="915.4" y="413.8" width="1.2" height="8.0" fill="#b9beb6" />
<rect x="917.3" y="321.7" width="1.2" height="10.2" fill="#b9beb6" />
<rect x="917.3" y="413.8" width="1.2" height="8.0" fill="#b9beb6" />
<rect x="919.2" y="321.7" width="1.2" height="10.2" fill="#b9beb6" />
<rect x="919.2" y="413.8" width="1.2" height="8.0" fill="#b9beb6" />
<rect x="921.1" y="321.7" width="1.2" height="10.2" fill="#b9beb6" />
<rect x="921.1" y="413.8" width="1.2" height="8.0" fill="#b9beb6" />
<rect x="923.0" y="321.7" width="1.2" height="10.2" fill="#b9beb6" />
<rect x="923.0" y="413.8" width="1.2" height="8.0" fill="#b9beb6" />
<rect x="924.9" y="321.7" width="1.2" height="10.2" fill="#b9beb6" />
<rect x="924.9" y="413.8" width="1.2" height="8.0" fill="#b9beb6" />
<rect x="926.8" y="321.7" width="1.2" height="10.2" fill="#b9beb6" />
<rect x="926.8" y="413.8" width="1.2" height="8.0" fill="#b9beb6" />
<rect x="928.7" y="321.7" width="1.2" height="10.2" fill="#b9beb6" />
<rect x="928.7" y="413.8" width="1.2" height="8.0" fill="#b9beb6" />
<rect x="930.6" y="321.7" width="1.2" height="10.2" fill="#b9beb6" />
<rect x="930.6" y="413.8" width="1.2" height="8.0" fill="#b9beb6" />
<rect x="932.4" y="321.7" width="1.2" height="10.2" fill="#b9beb6" />
<rect x="932.4" y="413.8" width="1.2" height="8.0" fill="#b9beb6" />
<rect x="934.3" y="321.7" width="1.2" height="10.2" fill="#b9beb6" />
<rect x="934.3" y="413.8" width="1.2" height="8.0" fill="#b9beb6" />
<rect x="936.2" y="321.7" width="1.2" height="10.2" fill="#b9beb6" />
<rect x="936.2" y="413.8" width="1.2" height="8.0" fill="#b9beb6" />
<rect x="938.1" y="321.7" width="1.2" height="10.2" fill="#b9beb6" />
<rect x="938.1" y="413.8" width="1.2" height="8.0" fill="#b9beb6" />
<rect x="940.0" y="321.7" width="1.2" height="10.2" fill="#b9beb6" />
<rect x="940.0" y="413.8" width="1.2" height="8.0" fill="#b9beb6" />
<rect x="941.9" y="321.7" width="1.2" height="10.2" fill="#b9beb6" />
<rect x="941.9" y="413.8" width="1.2" height="8.0" fill="#b9beb6" />
<rect x="943.8" y="321.7" width="1.2" height="10.2" fill="#b9beb6" />
<rect x="943.8" y="413.8" width="1.2" height="8.0" fill="#b9beb6" />
<rect x="945.7" y="321.7" width="1.2" height="10.2" fill="#b9beb6" />
<rect x="945.7" y="413.8" width="1.2" height="8.0" fill="#b9beb6" />
<rect x="947.6" y="321.7" width="1.2" height="10.2" fill="#b9beb6" />
<rect x="947.6" y="413.8" width="1.2" height="8.0" fill="#b9beb6" />
<rect x="949.5" y="321.7" width="1.2" height="10.2" fill="#b9beb6" />
<rect x="949.5" y="413.8" width="1.2" height="8.0" fill="#b9beb6" />
<rect x="951.4" y="321.7" width="1.2" height="10.2" fill="#b9beb6" />
<rect x="951.4" y="413.8" width="1.2" height="8.0" fill="#b9beb6" />
<rect x="953.3" y="321.7" width="1.2" height="10.2" fill="#b9beb6" />
<rect x="953.3" y="413.8" width="1.2" height="8.0" fill="#b9beb6" />
<rect x="955.2" y="321.7" width="1.2" height="10.2" fill="#b9beb6" />
<rect x="955.2" y="413.8" width="1.2" height="8.0" fill="#b9beb6" />
<rect x="957.1" y="321.7" width="1.2" height="10.2" fill="#b9beb6" />
<rect x="957.1" y="413.8" width="1.2" height="8.0" fill="#b9beb6" />
<rect x="959.0" y="321.7" width="1.2" height="10.2" fill="#b9beb6" />
<rect x="959.0" y="413.8" width="1.2" height="8.0" fill="#b9beb6" />
<rect x="960.9" y="321.7" width="1.2" height="10.2" fill="#b9beb6" />
<rect x="960.9" y="413.8" width="1.2" height="8.0" fill="#b9beb6" />
<rect x="962.8" y="321.7" width="1.2" height="10.2" fill="#b9beb6" />
<rect x="962.8" y="413.8" width="1.2" height="8.0" fill="#b9beb6" />
<rect x="964.7" y="321.7" width="1.2" height="10.2" fill="#b9beb6" />
<rect x="964.7" y="413.8" width="1.2" height="8.0" fill="#b9beb6" />
<rect x="966.6" y="321.7" width="1.2" height="10.2" fill="#b9beb6" />
<rect x="966.6" y="413.8" width="1.2" height="8.0" fill="#b9beb6" />
<rect x="968.5" y="321.7" width="1.2" height="10.2" fill="#b9beb6" />
<rect x="968.5" y="413.8" width="1.2" height="8.0" fill="#b9beb6" />
<rect x="970.4" y="321.7" width="1.2" height="10.2" fill="#b9beb6" />
<rect x="970.4" y="413.8" width="1.2" height="8.0" fill="#b9beb6" />
<rect x="972.3" y="321.7" width="1.2" height="10.2" fill="#b9beb6" />
<rect x="972.3" y="413.8" width="1.2" height="8.0" fill="#b9beb6" />
<rect x="880.7" y="332.2" width="9.7" height="1.2" fill="#b9beb6" />
<rect x="973.8" y="332.2" width="10.8" height="1.2" fill="#b9beb6" />
<rect x="880.7" y="334.1" width="9.7" height="1.2" fill="#b9beb6" />
<rect x="973.8" y="334.1" width="10.8" height="1.2" fill="#b9beb6" />
<rect x="880.7" y="336.0" width="9.7" height="1.2" fill="#b9beb6" />
<rect x="973.8" y="336.0" width="10.8" height="1.2" fill="#b9beb6" />
<rect x="880.7" y="337.8" width="9.7" height="1.2" fill="#b9beb6" />
<rect x="973.8" y="337.8" width="10.8" height="1.2" fill="#b9beb6" />
<rect x="880.7" y="339.7" width="9.7" height="1.2" fill="#b9beb6" />
<rect x="973.8" y="339.7" width="10.8" height="1.2" fill="#b9beb6" />
<rect x="880.7" y="341.5" width="9.7" height="1.2" fill="#b9beb6" />
<rect x="973.8" y="341.5" width="10.8" height="1.2" fill="#b9beb6" />
<rect x="880.7" y="343.4" width="9.7" height="1.2" fill="#b9beb6" />
<rect x="973.8" y="343.4" width="10.8" height="1.2" fill="#b9beb6" />
<rect x="880.7" y="345.3" width="9.7" height="1.2" fill="#b9beb6" />
<rect x="973.8" y="345.3" width="10.8" height="1.2" fill="#b9beb6" />
<rect x="880.7" y="347.1" width="9.7" height="1.2" fill="#b9beb6" />
<rect x="973.8" y="347.1" width="10.8" height="1.2" fill="#b9beb6" />
<rect x="880.7" y="349.0" width="9.7" height="1.2" fill="#b9beb6" />
<rect x="973.8" y="349.0" width="10.8" height="1.2" fill="#b9beb6" />
<rect x="880.7" y="350.8" width="9.7" height="1.2" fill="#b9beb6" />
<rect x="973.8" y="350.8" width="10.8" height="1.2" fill="#b9beb6" />
<rect x="880.7" y="352.7" width="9.7" height="1.2" fill="#b9beb6" />
<rect x="973.8" y="352.7" width="10.8" height="1.2" fill="#b9beb6" />
<rect x="880.7" y="354.6" width="9.7" height="1.2" fill="#b9beb6" />
<rect x="973.8" y="354.6" width="10.8" height="1.2" fill="#b9beb6" />
<rect x="880.7" y="356.4" width="9.7" height="1.2" fill="#b9beb6" />
<rect x="973.8" y="356.4" width="10.8" height="1.2" fill="#b9beb6" />
<rect x="880.7" y="358.3" width="9.7" height="1.2" fill="#b9beb6" />
<rect x="973.8" y="358.3" width="10.8" height="1.2" fill="#b9beb6" />
<rect x="880.7" y="360.2" width="9.7" height="1.2" fill="#b9beb6" />
<rect x="973.8" y="360.2" width="10.8" height="1.2" fill="#b9beb6" />
<rect x="880.7" y="362.0" width="9.7" height="1.2" fill="#b9beb6" />
<rect x="973.8" y="362.0" width="10.8" height="1.2" fill="#b9beb6" />
<rect x="880.7" y="363.9" width="9.7" height="1.2" fill="#b9beb6" />
<rect x="973.8" y="363.9" width="10.8" height="1.2" fill="#b9beb6" />
<rect x="880.7" y="365.7" width="9.7" height="1.2" fill="#b9beb6" />
<rect x="973.8" y="365.7" width="10.8" height="1.2" fill="#b9beb6" />
<rect x="880.7" y="367.6" width="9.7" height="1.2" fill="#b9beb6" />
<rect x="973.8" y="367.6" width="10.8" height="1.2" fill="#b9beb6" />
<rect x="880.7" y="369.5" width="9.7" height="1.2" fill="#b9beb6" />
<rect x="973.8" y="369.5" width="10.8" height="1.2" fill="#b9beb6" />
<rect x="880.7" y="371.3" width="9.7" height="1.2" fill="#b9beb6" />
<rect x="973.8" y="371.3" width="10.8" height="1.2" fill="#b9beb6" />
<rect x="880.7" y="373.2" width="9.7" height="1.2" fill="#b9beb6" />
<rect x="973.8" y="373.2" width="10.8" height="1.2" fill="#b9beb6" />
<rect x="880.7" y="375.0" width="9.7" height="1.2" fill="#b9beb6" />
<rect x="973.8" y="375.0" width="10.8" height="1.2" fill="#b9beb6" />
<rect x="880.7" y="376.9" width="9.7" height="1.2" fill="#b9beb6" />
<rect x="973.8" y="376.9" width="10.8" height="1.2" fill="#b9beb6" />
<rect x="880.7" y="378.8" width="9.7" height="1.2" fill="#b9beb6" />
<rect x="973.8" y="378.8" width="10.8" height="1.2" fill="#b9beb6" />
<rect x="880.7" y="380.6" width="9.7" height="1.2" fill="#b9beb6" />
<rect x="973.8" y="380.6" width="10.8" height="1.2" fill="#b9beb6" />
<rect x="880.7" y="382.5" width="9.7" height="1.2" fill="#b9beb6" />
<rect x="973.8" y="382.5" width="10.8" height="1.2" fill="#b9beb6" />
<rect x="880.7" y="384.3" width="9.7" height="1.2" fill="#b9beb6" />
<rect x="973.8" y="384.3" width="10.8" height="1.2" fill="#b9beb6" />
<rect x="880.7" y="386.2" width="9.7" height="1.2" fill="#b9beb6" />
<rect x="973.8" y="386.2" width="10.8" height="1.2" fill="#b9beb6" />
<rect x="880.7" y="388.1" width="9.7" height="1.2" fill="#b9beb6" />
<rect x="973.8" y="388.1" width="10.8" height="1.2" fill="#b9beb6" />
<rect x="880.7" y="389.9" width="9.7" height="1.2" fill="#b9beb6" />
<rect x="973.8" y="389.9" width="10.8" height="1.2" fill="#b9beb6" />
<rect x="880.7" y="391.8" width="9.7" height="1.2" fill="#b9beb6" />
<rect x="973.8" y="391.8" width="10.8" height="1.2" fill="#b9beb6" />
<rect x="880.7" y="393.7" width="9.7" height="1.2" fill="#b9beb6" />
<rect x="973.8" y="393.7" width="10.8" height="1.2" fill="#b9beb6" />
<rect x="880.7" y="395.5" width="9.7" height="1.2" fill="#b9beb6" />
<rect x="973.8" y="395.5" width="10.8" height="1.2" fill="#b9beb6" />
<rect x="880.7" y="397.4" width="9.7" height="1.2" fill="#b9beb6" />
<rect x="973.8" y="397.4" width="10.8" height="1.2" fill="#b9beb6" />
<rect x="880.7" y="399.2" width="9.7" height="1.2" fill="#b9beb6" />
<rect x="973.8" y="399.2" width="10.8" height="1.2" fill="#b9beb6" />
<rect x="880.7" y="401.1" width="9.7" height="1.2" fill="#b9beb6" />
<rect x="973.8" y="401.1" width="10.8" height="1.2" fill="#b9beb6" />
<rect x="880.7" y="403.0" width="9.7" height="1.2" fill="#b9beb6" />
<rect x="973.8" y="403.0" width="10.8" height="1.2" fill="#b9beb6" />
<rect x="880.7" y="404.8" width="9.7" height="1.2" fill="#b9beb6" />
<rect x="973.8" y="404.8" width="10.8" height="1.2" fill="#b9beb6" />
<rect x="880.7" y="406.7" width="9.7" height="1.2" fill="#b9beb6" />
<rect x="973.8" y="406.7" width="10.8" height="1.2" fill="#b9beb6" />
<rect x="880.7" y="408.5" width="9.7" height="1.2" fill="#b9beb6" />
<rect x="973.8" y="408.5" width="10.8" height="1.2" fill="#b9beb6" />
<rect x="880.7" y="410.4" width="9.7" height="1.2" fill="#b9beb6" />
<rect x="973.8" y="410.4" width="10.8" height="1.2" fill="#b9beb6" />
<rect x="880.7" y="412.3" width="9.7" height="1.2" fill="#b9beb6" />
<rect x="973.8" y="412.3" width="10.8" height="1.2" fill="#b9beb6" />
<path d="M895 331.9 H973.8 V413.8 H890.4 V336.5 Z" fill="#38383a" stroke="none" stroke-width="1" />
<circle cx="903.4" cy="345.6" r="3.6" fill="#222" />
<circle cx="960.8" cy="403.0" r="3.6" fill="#222" />
<circle cx="960.0" cy="345.0" r="1.5" fill="#2a2a2a" />
<text x="911.0" y="371.1" font-size="9" textLength="45.5" lengthAdjust="spacingAndGlyphs" fill="#9a937f" transform="rotate(180 933.7 367.8)">CFZX2128A</text>
<text x="923.0" y="381.3" font-size="9" textLength="20.5" lengthAdjust="spacingAndGlyphs" fill="#9a937f" transform="rotate(180 933.2 378.0)">IP55A</text>
<text x="897.0" y="391.5" font-size="9" textLength="66" lengthAdjust="spacingAndGlyphs" fill="#9a937f" transform="rotate(180 930.0 388.2)">P32K344EHVPBS</text>
<g transform="rotate(180 932.5 403)" fill="none" stroke="#9a937f" stroke-width="1.6"><path d="M912 409 V397 L922 409 V397 M925 397 L935 409 M935 397 L925 409 M938 409 V397 H946 Q951 397 951 400.5 Q951 404 946 404 H938"/></g>
<text x="880.0" y="333.0" font-size="5" fill="#e6fbee" >43</text>
<text x="976.0" y="330.0" font-size="5" fill="#e6fbee" >1</text>
<rect x="1010.2" y="303.4" width="14.4" height="138.0" fill="#14b553" />
<rect x="1012" y="304" width="11" height="136" fill="#0f7a36" opacity="0.55"/>
<rect x="1013.5" y="304.5" width="8.0" height="3.6" fill="#e8e8e8" />
<rect x="1015.5" y="304.5" width="4.0" height="3.6" fill="#151515" />
<circle cx="1028.9" cy="306.3" r="3.2" fill="#eedcc2" />
<rect x="1013.5" y="311.8" width="8.0" height="3.6" fill="#e8e8e8" />
<rect x="1015.5" y="311.8" width="4.0" height="3.6" fill="#151515" />
<circle cx="1028.9" cy="313.6" r="3.2" fill="#eedcc2" />
<rect x="1013.5" y="319.0" width="8.0" height="3.6" fill="#e8e8e8" />
<rect x="1015.5" y="319.0" width="4.0" height="3.6" fill="#151515" />
<circle cx="1028.9" cy="320.8" r="3.2" fill="#eedcc2" />
<rect x="1013.5" y="326.2" width="8.0" height="3.6" fill="#e8e8e8" />
<rect x="1015.5" y="326.2" width="4.0" height="3.6" fill="#151515" />
<circle cx="1028.9" cy="328.1" r="3.2" fill="#eedcc2" />
<rect x="1013.5" y="333.5" width="8.0" height="3.6" fill="#e8e8e8" />
<rect x="1015.5" y="333.5" width="4.0" height="3.6" fill="#151515" />
<circle cx="1028.9" cy="335.3" r="3.2" fill="#eedcc2" />
<rect x="1013.5" y="340.8" width="8.0" height="3.6" fill="#e8e8e8" />
<rect x="1015.5" y="340.8" width="4.0" height="3.6" fill="#151515" />
<circle cx="1028.9" cy="342.6" r="3.2" fill="#eedcc2" />
<rect x="1013.5" y="348.0" width="8.0" height="3.6" fill="#e8e8e8" />
<rect x="1015.5" y="348.0" width="4.0" height="3.6" fill="#151515" />
<circle cx="1028.9" cy="349.8" r="3.2" fill="#eedcc2" />
<rect x="1013.5" y="355.2" width="8.0" height="3.6" fill="#e8e8e8" />
<rect x="1015.5" y="355.2" width="4.0" height="3.6" fill="#151515" />
<circle cx="1028.9" cy="357.1" r="3.2" fill="#eedcc2" />
<rect x="1013.5" y="362.5" width="8.0" height="3.6" fill="#e8e8e8" />
<rect x="1015.5" y="362.5" width="4.0" height="3.6" fill="#151515" />
<circle cx="1028.9" cy="364.3" r="3.2" fill="#eedcc2" />
<rect x="1013.5" y="369.8" width="8.0" height="3.6" fill="#e8e8e8" />
<rect x="1015.5" y="369.8" width="4.0" height="3.6" fill="#151515" />
<circle cx="1028.9" cy="371.6" r="3.2" fill="#eedcc2" />
<rect x="1013.5" y="377.0" width="8.0" height="3.6" fill="#e8e8e8" />
<rect x="1015.5" y="377.0" width="4.0" height="3.6" fill="#151515" />
<circle cx="1028.9" cy="378.8" r="3.2" fill="#eedcc2" />
<rect x="1013.5" y="384.2" width="8.0" height="3.6" fill="#e8e8e8" />
<rect x="1015.5" y="384.2" width="4.0" height="3.6" fill="#151515" />
<circle cx="1028.9" cy="386.1" r="3.2" fill="#eedcc2" />
<rect x="1013.5" y="391.5" width="8.0" height="3.6" fill="#e8e8e8" />
<rect x="1015.5" y="391.5" width="4.0" height="3.6" fill="#151515" />
<circle cx="1028.9" cy="393.3" r="3.2" fill="#eedcc2" />
<rect x="1013.5" y="398.8" width="8.0" height="3.6" fill="#e8e8e8" />
<rect x="1015.5" y="398.8" width="4.0" height="3.6" fill="#151515" />
<circle cx="1028.9" cy="400.6" r="3.2" fill="#eedcc2" />
<rect x="1013.5" y="406.0" width="8.0" height="3.6" fill="#e8e8e8" />
<rect x="1015.5" y="406.0" width="4.0" height="3.6" fill="#151515" />
<circle cx="1028.9" cy="407.8" r="3.2" fill="#eedcc2" />
<rect x="1013.5" y="413.2" width="8.0" height="3.6" fill="#e8e8e8" />
<rect x="1015.5" y="413.2" width="4.0" height="3.6" fill="#151515" />
<circle cx="1028.9" cy="415.1" r="3.2" fill="#eedcc2" />
<rect x="1013.5" y="420.5" width="8.0" height="3.6" fill="#e8e8e8" />
<rect x="1015.5" y="420.5" width="4.0" height="3.6" fill="#151515" />
<circle cx="1028.9" cy="422.3" r="3.2" fill="#eedcc2" />
<rect x="1013.5" y="427.8" width="8.0" height="3.6" fill="#e8e8e8" />
<rect x="1015.5" y="427.8" width="4.0" height="3.6" fill="#151515" />
<circle cx="1028.9" cy="429.6" r="3.2" fill="#eedcc2" />
<rect x="1013.5" y="435.0" width="8.0" height="3.6" fill="#e8e8e8" />
<rect x="1015.5" y="435.0" width="4.0" height="3.6" fill="#151515" />
<circle cx="1028.9" cy="436.8" r="3.2" fill="#eedcc2" />
<rect x="928.3" y="434.5" width="23.7" height="15.2" fill="#0e6a34" />
<rect x="931.0" y="437.0" width="4.0" height="10.0" fill="#e0e0e0" />
<rect x="931.0" y="440.0" width="4.0" height="4.0" fill="#1a1a1a" />
<rect x="939.0" y="437.0" width="4.0" height="10.0" fill="#e0e0e0" />
<rect x="939.0" y="440.0" width="4.0" height="4.0" fill="#1a1a1a" />
<rect x="946.5" y="437.0" width="4.0" height="10.0" fill="#e0e0e0" />
<rect x="946.5" y="440.0" width="4.0" height="4.0" fill="#1a1a1a" />
<path d="M749.4 374 H845.5 V424.5 H829 V449.6 H768.5 V423.7 H749.4 Z" fill="#14b553" stroke="none" stroke-width="1" />
<path d="M752 395 L775 374" fill="none" stroke="#148c3a" stroke-width="1"/>
<path d="M752 400 L780 374" fill="none" stroke="#148c3a" stroke-width="1"/>
<path d="M752 405 L785 374" fill="none" stroke="#148c3a" stroke-width="1"/>
<path d="M762 412 H800" fill="none" stroke="#148c3a" stroke-width="1"/>
<path d="M790 440 H828" fill="none" stroke="#148c3a" stroke-width="1"/>
<path d="M800 380 L806 392" fill="none" stroke="#148c3a" stroke-width="1"/>
<path d="M826 393 L840 380" fill="none" stroke="#148c3a" stroke-width="1"/>
<rect x="802.5" y="396.0" width="3.7" height="1.4" fill="#d0d0d0" />
<rect x="823.5" y="396.0" width="3.7" height="1.4" fill="#d0d0d0" />
<rect x="802.5" y="399.8" width="3.7" height="1.4" fill="#d0d0d0" />
<rect x="823.5" y="399.8" width="3.7" height="1.4" fill="#d0d0d0" />
<rect x="802.5" y="403.6" width="3.7" height="1.4" fill="#d0d0d0" />
<rect x="823.5" y="403.6" width="3.7" height="1.4" fill="#d0d0d0" />
<rect x="802.5" y="407.4" width="3.7" height="1.4" fill="#d0d0d0" />
<rect x="823.5" y="407.4" width="3.7" height="1.4" fill="#d0d0d0" />
<rect x="802.5" y="411.2" width="3.7" height="1.4" fill="#d0d0d0" />
<rect x="823.5" y="411.2" width="3.7" height="1.4" fill="#d0d0d0" />
<rect x="802.5" y="415.0" width="3.7" height="1.4" fill="#d0d0d0" />
<rect x="823.5" y="415.0" width="3.7" height="1.4" fill="#d0d0d0" />
<rect x="806.2" y="393.9" width="17.3" height="24.3" fill="#222" />
<rect x="788.2" y="390.8" width="8.6" height="20.4" fill="#dcdcdc" rx="1"/>
<rect x="789.0" y="395.0" width="7.0" height="12.0" fill="#1e1e1e" />
<rect x="788.2" y="413.5" width="8.6" height="19.6" fill="#dcdcdc" rx="1"/>
<rect x="789.0" y="417.0" width="7.0" height="12.0" fill="#1e1e1e" />
<rect x="778.0" y="398.0" width="6.0" height="5.5" fill="#e8ecec" />
<rect x="778.0" y="408.0" width="6.0" height="5.5" fill="#e8ecec" />
<rect x="778.0" y="415.0" width="6.0" height="5.5" fill="#e8ecec" />
<rect x="778.0" y="424.0" width="6.0" height="5.5" fill="#e8ecec" />
<rect x="752.0" y="404.1" width="10.3" height="14.9" fill="#1c1c1c" />
<rect x="762.0" y="409.0" width="4.0" height="3.0" fill="#ccc" />
<rect x="778.7" y="437.0" width="9.5" height="9.5" fill="#1c1c1c" />
<rect x="831.3" y="391.0" width="13.4" height="6.0" fill="#cfcfcf" />
<rect x="834.0" y="391.0" width="8.0" height="6.0" fill="#6a6460" />
<rect x="831.3" y="399.0" width="13.4" height="6.0" fill="#cfcfcf" />
<rect x="834.0" y="399.0" width="8.0" height="6.0" fill="#6a6460" />
<rect x="831.3" y="407.0" width="13.4" height="6.0" fill="#cfcfcf" />
<rect x="834.0" y="407.0" width="8.0" height="6.0" fill="#6a6460" />
<rect x="831.3" y="415.0" width="13.4" height="6.0" fill="#cfcfcf" />
<rect x="834.0" y="415.0" width="8.0" height="6.0" fill="#6a6460" />
<circle cx="771.5" cy="378.5" r="2.8" fill="#c9a24e" />
<circle cx="771.5" cy="378.5" r="1.3" fill="#e8d8a0" />
<circle cx="772.0" cy="407.0" r="2.8" fill="#c9a24e" />
<circle cx="772.0" cy="407.0" r="1.3" fill="#e8d8a0" />
<circle cx="771.5" cy="416.0" r="2.8" fill="#c9a24e" />
<circle cx="771.5" cy="416.0" r="1.3" fill="#e8d8a0" />
<circle cx="833.0" cy="423.5" r="2.8" fill="#c9a24e" />
<circle cx="833.0" cy="423.5" r="1.3" fill="#e8d8a0" />
<circle cx="835.0" cy="383.6" r="2.8" fill="#c9a24e" />
<circle cx="835.0" cy="383.6" r="1.3" fill="#e8d8a0" />
<circle cx="802.0" cy="430.0" r="2.8" fill="#c9a24e" />
<circle cx="802.0" cy="430.0" r="1.3" fill="#e8d8a0" />
<circle cx="812.0" cy="430.0" r="2.8" fill="#c9a24e" />
<circle cx="812.0" cy="430.0" r="1.3" fill="#e8d8a0" />
<rect x="758.0" y="376.0" width="10.0" height="6.0" fill="#d8d8d0" rx="1"/>
<rect x="760.0" y="376.0" width="6.0" height="6.0" fill="#a8745a" />
<text x="809.0" y="390.0" font-size="6.5" fill="#e6fbee" >U55</text>
<text x="786.0" y="388.0" font-size="5.5" fill="#e6fbee" >R237</text>
<text x="772.0" y="396.0" font-size="5.5" fill="#e6fbee" >C46</text>
<text x="772.0" y="433.0" font-size="5.5" fill="#e6fbee" >C47</text>
<text x="795.0" y="440.0" font-size="5.5" fill="#e6fbee" >R238</text>
<rect x="698.5" y="425.3" width="69.5" height="34.6" fill="#14b553" />
<path d="M712 440 V455 M726 440 L740 447 H752" fill="none" stroke="#0b8a3e" stroke-width="1.3"/>
<circle cx="705.8" cy="433.8" r="4.6" fill="#9a7430" />
<circle cx="705.8" cy="433.8" r="3.8" fill="#c8a050" />
<circle cx="705.8" cy="433.8" r="2.7" fill="#d8dce0" />
<circle cx="705.8" cy="450.7" r="4.6" fill="#9a7430" />
<circle cx="705.8" cy="450.7" r="3.8" fill="#c8a050" />
<circle cx="705.8" cy="450.7" r="2.7" fill="#d8dce0" />
<circle cx="719.1" cy="433.8" r="4.6" fill="#9a7430" />
<circle cx="719.1" cy="433.8" r="3.8" fill="#c8a050" />
<circle cx="719.1" cy="433.8" r="2.7" fill="#d8dce0" />
<circle cx="719.1" cy="450.7" r="4.6" fill="#9a7430" />
<circle cx="719.1" cy="450.7" r="3.8" fill="#c8a050" />
<circle cx="719.1" cy="450.7" r="2.7" fill="#d8dce0" />
<circle cx="732.4" cy="433.8" r="4.6" fill="#9a7430" />
<circle cx="732.4" cy="433.8" r="3.8" fill="#c8a050" />
<circle cx="732.4" cy="433.8" r="2.7" fill="#d8dce0" />
<circle cx="732.4" cy="450.7" r="4.6" fill="#9a7430" />
<circle cx="732.4" cy="450.7" r="3.8" fill="#c8a050" />
<circle cx="732.4" cy="450.7" r="2.7" fill="#d8dce0" />
<circle cx="745.7" cy="433.8" r="4.6" fill="#9a7430" />
<circle cx="745.7" cy="433.8" r="3.8" fill="#c8a050" />
<circle cx="745.7" cy="433.8" r="2.7" fill="#d8dce0" />
<circle cx="745.7" cy="450.7" r="4.6" fill="#9a7430" />
<circle cx="745.7" cy="450.7" r="3.8" fill="#c8a050" />
<circle cx="745.7" cy="450.7" r="2.7" fill="#d8dce0" />
<circle cx="759.0" cy="433.8" r="4.6" fill="#9a7430" />
<circle cx="759.0" cy="433.8" r="3.8" fill="#c8a050" />
<circle cx="759.0" cy="433.8" r="2.7" fill="#d8dce0" />
<rect x="754.2" y="445.9" width="9.6" height="9.6" fill="#9a7430" />
<circle cx="759.0" cy="450.7" r="2.8" fill="#d8dce0" />
<rect x="617.3" y="406.9" width="68.7" height="31.7" fill="#14b553" />
<path d="M640 418 L646 423 H658 L662 428 V438 M676 409 L674 412 V420 L680 425 H686" fill="none" stroke="#0b8a3e" stroke-width="1.3"/>
<rect x="620.0" y="409.2" width="9.2" height="9.2" fill="#9a7430" />
<circle cx="624.6" cy="413.8" r="2.8" fill="#d8dce0" />
<rect x="620.0" y="426.7" width="9.2" height="9.2" fill="#9a7430" />
<circle cx="624.6" cy="431.3" r="2.8" fill="#d8dce0" />
<circle cx="637.6" cy="413.8" r="4.6" fill="#9a7430" />
<circle cx="637.6" cy="413.8" r="3.8" fill="#c8a050" />
<circle cx="637.6" cy="413.8" r="2.7" fill="#d8dce0" />
<circle cx="637.6" cy="431.3" r="4.6" fill="#9a7430" />
<circle cx="637.6" cy="431.3" r="3.8" fill="#c8a050" />
<circle cx="637.6" cy="431.3" r="2.7" fill="#d8dce0" />
<circle cx="651.0" cy="413.8" r="4.6" fill="#9a7430" />
<circle cx="651.0" cy="413.8" r="3.8" fill="#c8a050" />
<circle cx="651.0" cy="413.8" r="2.7" fill="#d8dce0" />
<circle cx="651.0" cy="431.3" r="4.6" fill="#9a7430" />
<circle cx="651.0" cy="431.3" r="3.8" fill="#c8a050" />
<circle cx="651.0" cy="431.3" r="2.7" fill="#d8dce0" />
<circle cx="664.0" cy="413.8" r="4.6" fill="#9a7430" />
<circle cx="664.0" cy="413.8" r="3.8" fill="#c8a050" />
<circle cx="664.0" cy="413.8" r="2.7" fill="#d8dce0" />
<circle cx="664.0" cy="431.3" r="4.6" fill="#9a7430" />
<circle cx="664.0" cy="431.3" r="3.8" fill="#c8a050" />
<circle cx="664.0" cy="431.3" r="2.7" fill="#d8dce0" />
<circle cx="677.4" cy="413.8" r="4.6" fill="#9a7430" />
<circle cx="677.4" cy="413.8" r="3.8" fill="#c8a050" />
<circle cx="677.4" cy="413.8" r="2.7" fill="#d8dce0" />
<circle cx="677.4" cy="431.3" r="4.6" fill="#9a7430" />
<circle cx="677.4" cy="431.3" r="3.8" fill="#c8a050" />
<circle cx="677.4" cy="431.3" r="2.7" fill="#d8dce0" />
<rect x="570.5" y="326.0" width="22.4" height="44.5" fill="#14b553" />
<rect x="592.9" y="326.0" width="17.9" height="29.9" fill="#14b553" />
<rect x="611.8" y="315.5" width="28.3" height="41.0" fill="#14b553" />
<rect x="574.7" y="329.6" width="13.0" height="39.0" fill="#1c1c1c" />
<rect x="580.0" y="334.9" width="2.4" height="2.4" fill="#c8a850" />
<rect x="580.0" y="347.9" width="2.4" height="2.4" fill="#c8a850" />
<rect x="580.0" y="360.9" width="2.4" height="2.4" fill="#c8a850" />
<rect x="595.2" y="330.5" width="12.4" height="24.8" fill="#1c1c1c" />
<rect x="600.2" y="335.5" width="2.4" height="2.4" fill="#c8a850" />
<rect x="600.2" y="347.9" width="2.4" height="2.4" fill="#c8a850" />
<rect x="614.3" y="316.5" width="24.8" height="37.2" fill="#1c1c1c" />
<rect x="619.3" y="321.5" width="2.4" height="2.4" fill="#c8a850" />
<rect x="619.3" y="333.9" width="2.4" height="2.4" fill="#c8a850" />
<rect x="619.3" y="346.3" width="2.4" height="2.4" fill="#c8a850" />
<rect x="631.7" y="321.5" width="2.4" height="2.4" fill="#c8a850" />
<rect x="631.7" y="333.9" width="2.4" height="2.4" fill="#c8a850" />
<rect x="631.7" y="346.3" width="2.4" height="2.4" fill="#c8a850" />
<rect x="570.8" y="380.3" width="39.1" height="35.1" fill="#14b553" />
<rect x="572.8" y="382.6" width="34.5" height="29.9" fill="#5cc07c" />
<rect x="572.8" y="382.6" width="34.5" height="2.0" fill="#6fd08e" />
<circle cx="584.5" cy="391.0" r="5.5" fill="#6d8494" />
<rect x="580.0" y="390.0" width="9.0" height="2.0" fill="#c8d4dc" />
<circle cx="584.5" cy="405.3" r="5.5" fill="#6d8494" />
<rect x="580.0" y="404.3" width="9.0" height="2.0" fill="#c8d4dc" />
<rect x="596.0" y="385.0" width="8.5" height="11.5" fill="#2e8a50" />
<rect x="596.0" y="399.5" width="8.5" height="11.0" fill="#2e8a50" />
<text x="893.0" y="120.0" font-size="6.5" fill="#e6fbee" >R85</text>
<text x="884.0" y="92.0" font-size="6.5" fill="#e6fbee" transform="rotate(90 884 92)">D7</text>
<text x="889.0" y="110.0" font-size="6.5" fill="#e6fbee" transform="rotate(90 889 110)">R84</text>
<text x="895.0" y="155.0" font-size="6.5" fill="#e6fbee" >Y2</text>
<text x="910.0" y="150.0" font-size="6.5" fill="#e6fbee" transform="rotate(90 910 150)">C61</text>
<text x="886.0" y="174.0" font-size="6.5" fill="#e6fbee" >R67</text>
<text x="886.0" y="180.0" font-size="6.5" fill="#e6fbee" >R68</text>
<text x="904.0" y="199.0" font-size="6.5" fill="#e6fbee" >TP37</text>
<text x="985.0" y="183.0" font-size="6.5" fill="#e6fbee" transform="rotate(90 985 183)">D8</text>
<text x="961.0" y="203.0" font-size="6.5" fill="#e6fbee" >TP154</text>
<text x="1000.0" y="190.0" font-size="6.5" fill="#e6fbee" >TP228</text>
<text x="1012.0" y="199.0" font-size="6.5" fill="#e6fbee" >L7</text>
<text x="1021.0" y="200.0" font-size="6.5" fill="#e6fbee" >TP113</text>
<text x="996.0" y="108.0" font-size="6.5" fill="#e6fbee" >R2</text>
<text x="992.0" y="122.0" font-size="6.5" fill="#e6fbee" >R62</text>
<text x="1022.0" y="109.0" font-size="6.5" fill="#e6fbee" >TP136</text>
<text x="1022.0" y="127.0" font-size="6.5" fill="#e6fbee" >J13</text>
<text x="1027.0" y="83.0" font-size="6.5" fill="#e6fbee" transform="rotate(90 1027 83)">GND6</text>
<text x="990.0" y="94.0" font-size="6.5" fill="#e6fbee" >TP4</text>
<text x="970.0" y="94.0" font-size="6.5" fill="#e6fbee" transform="rotate(90 970 94)">SW2</text>
<text x="955.0" y="82.0" font-size="6.5" fill="#e6fbee" transform="rotate(90 955 82)">U1</text>
<text x="882.0" y="145.0" font-size="6.5" fill="#e6fbee" >U8</text>
<text x="880.0" y="211.0" font-size="6.5" fill="#e6fbee" >C17</text>
<text x="884.0" y="187.0" font-size="5.5" fill="#e6fbee" >C187</text>
<text x="900.0" y="187.0" font-size="5.5" fill="#e6fbee" >R255</text>
<text x="884.0" y="193.0" font-size="5.5" fill="#e6fbee" >C189</text>
<text x="900.0" y="193.0" font-size="5.5" fill="#e6fbee" >R269</text>
<text x="863.0" y="196.0" font-size="5.5" fill="#e6fbee" >C181</text>
<text x="986.0" y="146.0" font-size="5.5" fill="#e6fbee" >R66</text>
<text x="986.0" y="151.0" font-size="5.5" fill="#e6fbee" >R65</text>
<text x="986.0" y="156.0" font-size="5.5" fill="#e6fbee" >R249</text>
<text x="986.0" y="161.0" font-size="5.5" fill="#e6fbee" >R247</text>
<text x="986.0" y="166.0" font-size="5.5" fill="#e6fbee" >R248</text>
<text x="986.0" y="171.0" font-size="5.5" fill="#e6fbee" >R243</text>
<text x="986.0" y="178.0" font-size="5.5" fill="#e6fbee" >R242</text>
<g fill="none" stroke="#e8222b" stroke-width="2">
<path d="M618.3 81.6 H786.8 V151.7 H755.9 V202.3 H786.2 V302.2 H757.7 V312.7 H711.7 V315.6 H611.5 V325.3 H570 V226.3 H588.3 V204 H550.8 V149.4 H618.3 Z"/>
<path d="M570 272.1 H592.2 V226.3"/>
<path d="M887.5 82.1 H1044.7 V144.5 H1063.2 V192.5 H1030.3 V212.9 H860.1 V139.4 H887.5 Z"/>
<path d="M796.4 294.5 H851.7 V339 H844.5 V361.8 H796.4 Z"/>
<path d="M749.4 374 H845.5 V424.5 H829 V449.6 H768.5 V423.7 H749.4 Z"/>
<rect x="801.8" y="81.9" width="85.7" height="22.0"/>
<rect x="812.4" y="156.9" width="17.8" height="31.5"/>
<rect x="795" y="201.5" width="32.0" height="18.7"/>
<rect x="827" y="201.5" width="31.2" height="32.9"/>
<rect x="1007" y="212.9" width="25.4" height="34.8"/>
<rect x="1006.3" y="256.6" width="26.1" height="37.6"/>
<rect x="912.4" y="283.5" width="38.6" height="36.1"/>
<rect x="951" y="292.7" width="38.5" height="14.1"/>
<rect x="878.1" y="319.6" width="108.7" height="106.4"/>
<rect x="1010.2" y="303.4" width="14.4" height="137.9"/>
<rect x="928.3" y="434.5" width="23.7" height="15.2"/>
<rect x="698.5" y="425.3" width="70.0" height="34.6"/>
<rect x="617.3" y="406.9" width="68.7" height="31.7"/>
<rect x="570.8" y="380.3" width="39.1" height="35.1"/>
<rect x="570.5" y="326" width="22.4" height="44.5"/>
<rect x="592.9" y="326" width="17.9" height="29.9"/>
<rect x="611.8" y="315.5" width="28.3" height="41.0"/>
<rect x="582.6" y="491.6" width="444.9" height="31.7"/>
</g>
<g opacity="0.55">
<path d="M765.5 495 C773.5 495 779.2 500 779.2 506.2 C779.2 512.4 773.5 517.4 765.5 517.4 C763.5 517.4 761.6 517.1 759.9 516.5 L754.5 519.5 L755.8 514.6 C753 512.6 751.7 509.6 751.7 506.2 C751.7 500 757.5 495 765.5 495 Z" fill="#3c3c3c"/>
<path d="M780.8 505 C787.7 505 793.3 509.3 793.3 514.6 C793.3 517.4 791.8 519.8 789.4 521.5 L790.4 525 L786.4 523.2 C784.6 523.8 782.8 524.2 780.8 524.2 C773.9 524.2 768.3 519.9 768.3 514.6 C768.3 509.3 773.9 505 780.8 505 Z" fill="#3c3c3c" stroke="#b89838" stroke-width="0.8"/>
</g>
<g fill="none" stroke="#4a4a4a" stroke-width="1.7" stroke-linecap="round" stroke-linejoin="round" opacity="0.7">
<g transform="translate(803 494.5)"><path d="M11 2 L3 13"/><path d="M17 2 L27 13"/><path d="M13 11 L5 26 L25 24"/><path d="M19 18 L26 27"/></g>
<g transform="translate(834 494.5)"><path d="M14 1 L5 12"/><path d="M14 2 L23 12"/><path d="M8 13 L1 27"/><path d="M8 16 L13 26"/><path d="M20 13 L14 27"/><path d="M20 16 L28 27"/></g>
<g transform="translate(866.5 494.5)"><path d="M6 2 H22 V10 H6 Z"/><path d="M2 14 H27"/><path d="M9 14 L7 19 H22 L21 27 L16 25"/></g>
<g transform="translate(926 494.5)"><path d="M2 5 H27"/><path d="M9 1 V9"/><path d="M19 1 V9"/><path d="M13 10 L16 12"/><path d="M6 15 H23 L5 26 Q14 24 27 27"/></g>
<g transform="translate(958 494.5)"><path d="M7 2 L3 9 L12 9"/><path d="M3 13 H11 V27"/><path d="M3 13 V27"/><path d="M3 19 H11"/><path d="M17 2 V11 H25"/><path d="M24 4 L18 7"/><path d="M17 15 V26 H26"/><path d="M25 17 L18 21"/></g>
<g transform="translate(991.5 494.5)"><path d="M4 2 L2 6 H12"/><path d="M1 8 H13"/><path d="M7 6 L2 13"/><path d="M8 9 L12 13"/><path d="M15 3 H24 V11 H15 Z"/><path d="M6 15 H23 V27 H6 Z"/><path d="M6 21 H23"/></g>
<g transform="translate(1017 494.5)"><path d="M2 5 H27"/><path d="M9 1 V9"/><path d="M19 1 V9"/><path d="M5 17 L2 25"/><path d="M10 14 V25 H24 V21"/><path d="M15 14 L18 18"/><path d="M22 14 L27 21"/></g>
<circle cx="906" cy="511.5" r="1.8" fill="#5a5a5a" stroke="none"/>
</g>
</svg>
</body></html>
